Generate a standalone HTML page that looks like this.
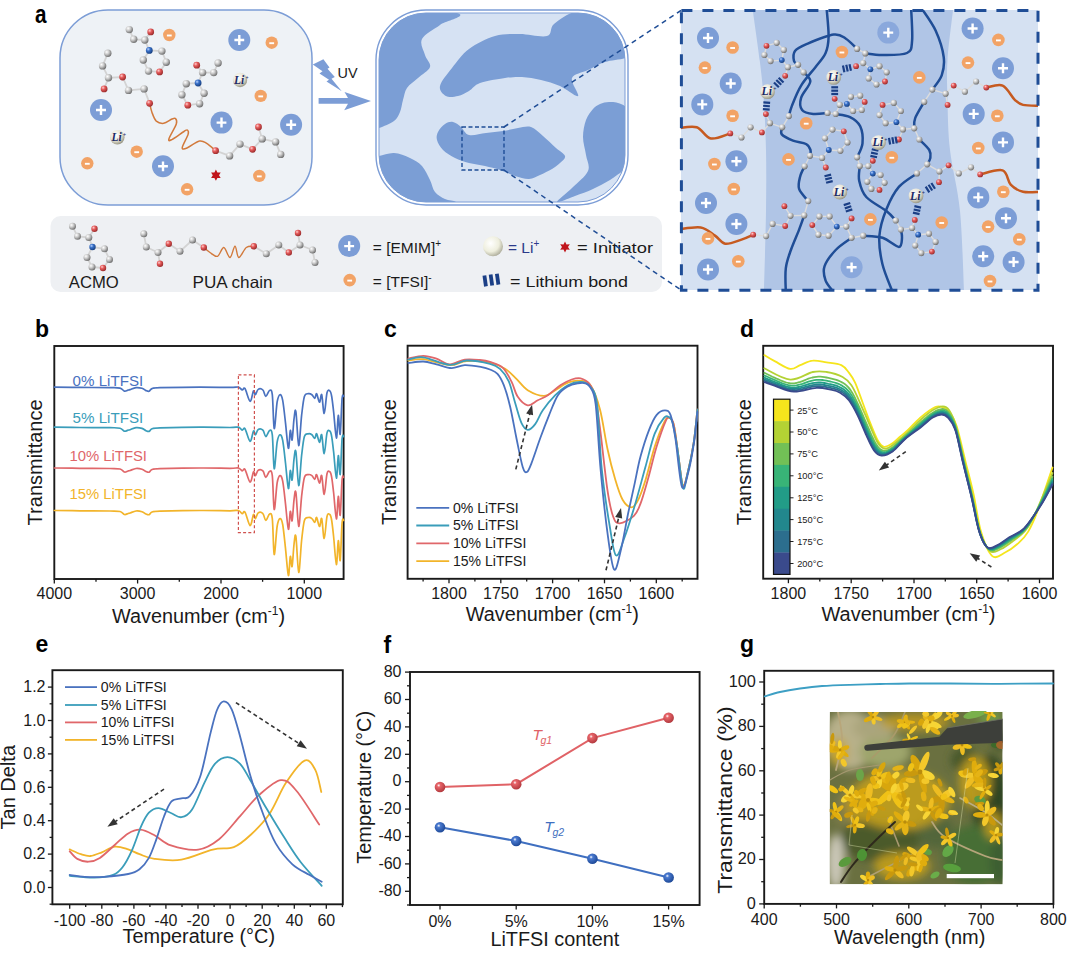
<!DOCTYPE html>
<html><head><meta charset="utf-8"><style>
html,body{margin:0;padding:0;background:#fff;width:1080px;height:955px;overflow:hidden}
svg{display:block;font-family:"Liberation Sans",sans-serif}
</style></head><body>
<svg width="1080" height="955" viewBox="0 0 1080 955">
<rect width="1080" height="955" fill="#fff"/>
<defs>
<radialGradient id="ballG" cx="0.35" cy="0.32" r="0.7"><stop offset="0" stop-color="#ffffff"/><stop offset="0.45" stop-color="#c9c9c9"/><stop offset="1" stop-color="#6f6f6f"/></radialGradient>
<radialGradient id="ballR" cx="0.35" cy="0.32" r="0.7"><stop offset="0" stop-color="#ffd0d0"/><stop offset="0.4" stop-color="#e55b5b"/><stop offset="1" stop-color="#9a2b2b"/></radialGradient>
<radialGradient id="ballB" cx="0.35" cy="0.32" r="0.7"><stop offset="0" stop-color="#b9d3ff"/><stop offset="0.4" stop-color="#3870c8"/><stop offset="1" stop-color="#173f80"/></radialGradient>
<radialGradient id="liG" cx="0.4" cy="0.35" r="0.7"><stop offset="0" stop-color="#ffffff"/><stop offset="0.55" stop-color="#e8e6d8"/><stop offset="1" stop-color="#8d8b78"/></radialGradient>
<radialGradient id="pearl" cx="0.38" cy="0.35" r="0.7"><stop offset="0" stop-color="#ffffff"/><stop offset="0.6" stop-color="#eeeedd"/><stop offset="1" stop-color="#a9a896"/></radialGradient>
</defs><rect x="60" y="10" width="252" height="195" rx="48" ry="48" fill="#eef2f6" stroke="#7c9dd6" stroke-width="1.5"/><line x1="129.3" y1="29.6" x2="133.7" y2="39.3" stroke="#d3d3d3" stroke-width="1.8"/><line x1="133.7" y1="39.3" x2="144.8" y2="40" stroke="#d3d3d3" stroke-width="1.8"/><line x1="144.8" y1="40" x2="150.7" y2="31.9" stroke="#d3d3d3" stroke-width="1.8"/><line x1="144.8" y1="40" x2="149.3" y2="50.4" stroke="#d3d3d3" stroke-width="1.8"/><line x1="149.3" y1="50.4" x2="161.9" y2="51.1" stroke="#d3d3d3" stroke-width="1.8"/><line x1="161.9" y1="51.1" x2="166.3" y2="62.2" stroke="#d3d3d3" stroke-width="1.8"/><line x1="166.3" y1="62.2" x2="159.6" y2="71.9" stroke="#d3d3d3" stroke-width="1.8"/><line x1="159.6" y1="71.9" x2="148.5" y2="71.1" stroke="#d3d3d3" stroke-width="1.8"/><line x1="148.5" y1="71.1" x2="143.3" y2="60" stroke="#d3d3d3" stroke-width="1.8"/><line x1="143.3" y1="60" x2="149.3" y2="50.4" stroke="#d3d3d3" stroke-width="1.8"/><circle cx="129.3" cy="29.6" r="3.7" fill="url(#ballG)"/><circle cx="133.7" cy="39.3" r="3.7" fill="url(#ballG)"/><circle cx="144.8" cy="40" r="3.7" fill="url(#ballG)"/><circle cx="150.7" cy="31.9" r="3.4" fill="url(#ballR)"/><circle cx="149.3" cy="50.4" r="3.4" fill="url(#ballB)"/><circle cx="161.9" cy="51.1" r="3.7" fill="url(#ballG)"/><circle cx="166.3" cy="62.2" r="3.7" fill="url(#ballG)"/><circle cx="159.6" cy="71.9" r="3.4" fill="url(#ballR)"/><circle cx="148.5" cy="71.1" r="3.7" fill="url(#ballG)"/><circle cx="143.3" cy="60" r="3.7" fill="url(#ballG)"/><line x1="218.1" y1="63" x2="213.7" y2="72.6" stroke="#d3d3d3" stroke-width="1.8"/><line x1="213.7" y1="72.6" x2="202.6" y2="72.6" stroke="#d3d3d3" stroke-width="1.8"/><line x1="202.6" y1="72.6" x2="196.7" y2="65.2" stroke="#d3d3d3" stroke-width="1.8"/><line x1="202.6" y1="72.6" x2="198.1" y2="83" stroke="#d3d3d3" stroke-width="1.8"/><line x1="198.1" y1="83" x2="186.3" y2="83.7" stroke="#d3d3d3" stroke-width="1.8"/><line x1="186.3" y1="83.7" x2="181.9" y2="94.8" stroke="#d3d3d3" stroke-width="1.8"/><line x1="181.9" y1="94.8" x2="187.8" y2="105.2" stroke="#d3d3d3" stroke-width="1.8"/><line x1="187.8" y1="105.2" x2="199.6" y2="103.7" stroke="#d3d3d3" stroke-width="1.8"/><line x1="199.6" y1="103.7" x2="204.1" y2="93.3" stroke="#d3d3d3" stroke-width="1.8"/><line x1="204.1" y1="93.3" x2="198.1" y2="83" stroke="#d3d3d3" stroke-width="1.8"/><circle cx="218.1" cy="63" r="3.7" fill="url(#ballG)"/><circle cx="213.7" cy="72.6" r="3.7" fill="url(#ballG)"/><circle cx="202.6" cy="72.6" r="3.7" fill="url(#ballG)"/><circle cx="196.7" cy="65.2" r="3.4" fill="url(#ballR)"/><circle cx="198.1" cy="83" r="3.4" fill="url(#ballB)"/><circle cx="186.3" cy="83.7" r="3.7" fill="url(#ballG)"/><circle cx="181.9" cy="94.8" r="3.7" fill="url(#ballG)"/><circle cx="187.8" cy="105.2" r="3.4" fill="url(#ballR)"/><circle cx="199.6" cy="103.7" r="3.7" fill="url(#ballG)"/><circle cx="204.1" cy="93.3" r="3.7" fill="url(#ballG)"/><path d="M149.6,103.3 C150,104.8 150.8,109.2 151.9,112.2 C153,115.2 154.3,119.2 156.3,121.1 C158.3,122.9 161.1,123.6 163.7,123.3 C166.3,123 170,119.8 172,119 C174,118.2 174.8,117.7 175.5,118.5 C176.2,119.3 177.4,120.7 176.3,124.1 C175.2,127.5 169.6,136.3 168.9,138.9 C168.2,141.5 169.4,140.8 171.9,139.6 C174.4,138.4 181.4,133.1 184,131.5 C186.6,129.9 186.7,129.5 187.4,130 C188.1,130.5 189,131.4 188.1,134.4 C187.2,137.4 182.3,145.6 182.2,147.8 C182.1,150 184.6,148.9 187.4,147.8 C190.2,146.7 196.1,141.8 199.3,141.1 C202.5,140.3 204,141.7 206.7,143.3 C209.4,144.9 214.1,149.5 215.6,150.7" fill="none" stroke="#d27a3c" stroke-width="1.5"/><line x1="107.8" y1="53.3" x2="102.6" y2="65.9" stroke="#d3d3d3" stroke-width="1.8"/><line x1="102.6" y1="65.9" x2="108.5" y2="77.8" stroke="#d3d3d3" stroke-width="1.8"/><line x1="108.5" y1="77.8" x2="122.6" y2="77" stroke="#d3d3d3" stroke-width="1.8"/><line x1="122.6" y1="77" x2="128.5" y2="90.4" stroke="#d3d3d3" stroke-width="1.8"/><line x1="128.5" y1="90.4" x2="144.1" y2="88.9" stroke="#d3d3d3" stroke-width="1.8"/><line x1="144.1" y1="88.9" x2="149.6" y2="103.3" stroke="#d3d3d3" stroke-width="1.8"/><line x1="108.5" y1="77.8" x2="104.1" y2="88.9" stroke="#d3d3d3" stroke-width="1.8"/><circle cx="107.8" cy="53.3" r="3.7" fill="url(#ballG)"/><circle cx="102.6" cy="65.9" r="3.7" fill="url(#ballG)"/><circle cx="108.5" cy="77.8" r="3.7" fill="url(#ballG)"/><circle cx="122.6" cy="77" r="3.4" fill="url(#ballR)"/><circle cx="128.5" cy="90.4" r="3.7" fill="url(#ballG)"/><circle cx="144.1" cy="88.9" r="3.7" fill="url(#ballG)"/><circle cx="149.6" cy="103.3" r="3.4" fill="url(#ballR)"/><circle cx="104.1" cy="88.9" r="3.4" fill="url(#ballR)"/><line x1="215.6" y1="150.7" x2="229.6" y2="155.9" stroke="#d3d3d3" stroke-width="1.8"/><line x1="229.6" y1="155.9" x2="240" y2="144.1" stroke="#d3d3d3" stroke-width="1.8"/><line x1="240" y1="144.1" x2="252.6" y2="149.3" stroke="#d3d3d3" stroke-width="1.8"/><line x1="252.6" y1="149.3" x2="262.2" y2="138.9" stroke="#d3d3d3" stroke-width="1.8"/><line x1="262.2" y1="138.9" x2="275.6" y2="141.9" stroke="#d3d3d3" stroke-width="1.8"/><line x1="275.6" y1="141.9" x2="280.7" y2="154.4" stroke="#d3d3d3" stroke-width="1.8"/><line x1="262.2" y1="138.9" x2="258.5" y2="127" stroke="#d3d3d3" stroke-width="1.8"/><circle cx="215.6" cy="150.7" r="3.4" fill="url(#ballR)"/><circle cx="229.6" cy="155.9" r="3.7" fill="url(#ballG)"/><circle cx="240" cy="144.1" r="3.7" fill="url(#ballG)"/><circle cx="252.6" cy="149.3" r="3.4" fill="url(#ballR)"/><circle cx="262.2" cy="138.9" r="3.7" fill="url(#ballG)"/><circle cx="275.6" cy="141.9" r="3.7" fill="url(#ballG)"/><circle cx="280.7" cy="154.4" r="3.7" fill="url(#ballG)"/><circle cx="258.5" cy="127" r="3.4" fill="url(#ballR)"/><circle cx="239.3" cy="40" r="11" fill="#7c9dd6" opacity="1.0"/><path d="M234.4,40 H244.2 M239.3,35 V45" stroke="#fff" stroke-width="2.4"/><circle cx="101" cy="110" r="11" fill="#7c9dd6" opacity="1.0"/><path d="M96,110 H106 M101,105 V115" stroke="#fff" stroke-width="2.4"/><circle cx="221.5" cy="122.6" r="11" fill="#7c9dd6" opacity="1.0"/><path d="M216.6,122.6 H226.4 M221.5,117.6 V127.5" stroke="#fff" stroke-width="2.4"/><circle cx="291.1" cy="124.8" r="11" fill="#7c9dd6" opacity="1.0"/><path d="M286.2,124.8 H296.1 M291.1,119.8 V129.8" stroke="#fff" stroke-width="2.4"/><circle cx="163" cy="166.3" r="11" fill="#7c9dd6" opacity="1.0"/><path d="M158.1,166.3 H167.9 M163,161.4 V171.2" stroke="#fff" stroke-width="2.4"/><circle cx="169.3" cy="35" r="6.2" fill="#f2a366"/><path d="M166.9,35.5 H171.7" stroke="#fff" stroke-width="1.9"/><circle cx="271.7" cy="42.7" r="6.2" fill="#f2a366"/><path d="M269.3,43.2 H274.1" stroke="#fff" stroke-width="1.9"/><circle cx="260.7" cy="95.9" r="6.2" fill="#f2a366"/><path d="M258.3,96.4 H263.1" stroke="#fff" stroke-width="1.9"/><circle cx="136.7" cy="151.7" r="6.2" fill="#f2a366"/><path d="M134.3,152.2 H139.1" stroke="#fff" stroke-width="1.9"/><circle cx="87.3" cy="163.3" r="6.2" fill="#f2a366"/><path d="M84.9,163.8 H89.7" stroke="#fff" stroke-width="1.9"/><circle cx="259.3" cy="175.9" r="6.2" fill="#f2a366"/><path d="M256.9,176.4 H261.7" stroke="#fff" stroke-width="1.9"/><circle cx="187.1" cy="189.3" r="6.2" fill="#f2a366"/><path d="M184.7,189.8 H189.5" stroke="#fff" stroke-width="1.9"/><circle cx="240" cy="80" r="7.2" fill="url(#liG)"/><text x="239.2" y="83.6" font-family="Liberation Serif, serif" font-style="italic" font-weight="bold" font-size="11.5" fill="#1d2a66" text-anchor="middle">Li</text><text x="245.6" y="79.6" font-family="Liberation Serif, serif" font-weight="bold" font-size="5.4" fill="#1d2a66">+</text><circle cx="117.3" cy="137.3" r="7.2" fill="url(#liG)"/><text x="116.5" y="140.9" font-family="Liberation Serif, serif" font-style="italic" font-weight="bold" font-size="11.5" fill="#1d2a66" text-anchor="middle">Li</text><text x="122.9" y="136.9" font-family="Liberation Serif, serif" font-weight="bold" font-size="5.4" fill="#1d2a66">+</text><path d="M215.9,169.6 L214.4,172.5 L211.1,172.4 L212.8,175.2 L211.1,178 L214.4,177.9 L215.9,180.8 L217.4,177.9 L220.7,178 L219,175.2 L220.7,172.4 L217.4,172.5 Z" fill="#c0141b"/><rect x="376" y="10" width="252" height="195" rx="50" ry="50" fill="#fff" stroke="#7c9dd6" stroke-width="1.4"/><defs><clipPath id="b2clip"><rect x="379" y="13" width="246" height="189" rx="47" ry="47"/></clipPath></defs><rect x="379" y="13" width="246" height="189" rx="47" ry="47" fill="#d6e2f3" stroke="#7c9dd6" stroke-width="1"/><g clip-path="url(#b2clip)"><path d="M457,13 C469,16.3 445.8,20.7 440,25 C434.2,29.3 424.5,34 422,39 C419.5,44 423.7,50.3 425,55 C426.3,59.7 431.2,63.2 430,67 C428.8,70.8 421.8,74.5 418,78 C414.2,81.5 409.5,84.3 407,88 C404.5,91.7 404.2,96 403,100 C401.8,104 401.5,108.5 400,112 C398.5,115.5 397.5,118.3 394,121 C390.5,123.7 383.3,126.5 379,128 C374.7,129.5 369.8,150.5 368,130 C366.2,109.5 353.2,24.5 368,5 C382.8,-14.5 445,9.7 457,13 Z" fill="#7b9ed5"/><path d="M446,96 C443,94.3 439,90.7 440,86 C441,81.3 447.2,74.2 452,68 C456.8,61.8 461.8,54.3 469,49 C476.2,43.7 486.5,38.5 495,36 C503.5,33.5 511.3,34 520,34 C528.7,34 541.3,37.7 547,36 C552.7,34.3 549.3,28 554,24 C558.7,20 567.3,13.5 575,12 C582.7,10.5 592.7,11.8 600,15 C607.3,18.2 614,26 619,31 C624,36 628.7,40.7 630,45 C631.3,49.3 631.2,54.2 627,57 C622.8,59.8 611.5,59.8 605,62 C598.5,64.2 593.5,67.3 588,70 C582.5,72.7 573.7,73.7 572,78 C570.3,82.3 580,94.7 578,96 C576,97.3 566.2,88.7 560,86 C553.8,83.3 547.3,81.5 541,80 C534.7,78.5 528,77.3 522,77 C516,76.7 512,77 505,78 C498,79 486,80.8 480,83 C474,85.2 472.7,88.8 469,91 C465.3,93.2 461.8,95.2 458,96 C454.2,96.8 449,97.7 446,96 Z" fill="#7b9ed5"/><path d="M438,132 C439.3,129.3 442.5,125.7 445,124 C447.5,122.3 450.3,121.5 453,122 C455.7,122.5 458.3,124.8 461,127 C463.7,129.2 464.8,134 469,135 C473.2,136 480.3,133.7 486,133 C491.7,132.3 497.7,131.8 503,131 C508.3,130.2 513.3,128.7 518,128 C522.7,127.3 526.8,125.7 531,127 C535.2,128.3 538.8,132.5 543,136 C547.2,139.5 552.3,144.7 556,148 C559.7,151.3 564.3,153.5 565,156 C565.7,158.5 562.2,160.8 560,163 C557.8,165.2 555.3,167 552,169 C548.7,171 543.8,173.3 540,175 C536.2,176.7 533.2,178.8 529,179 C524.8,179.2 519.8,177.5 515,176 C510.2,174.5 505,171.7 500,170 C495,168.3 490.2,167.2 485,166 C479.8,164.8 474,164.3 469,163 C464,161.7 459.3,160.2 455,158 C450.7,155.8 446,153 443,150 C440,147 437.8,143 437,140 C436.2,137 436.7,134.7 438,132 Z" fill="#7b9ed5"/><path d="M609,102 C612,101.8 615,101.8 618,103 C621,104.2 624.7,104.5 627,109 C629.3,113.5 631.2,119 632,130 C632.8,141 632.8,168.5 632,175 C631.2,181.5 630.7,168.2 627,169 C623.3,169.8 615.7,176.7 610,180 C604.3,183.3 598.8,186.3 593,189 C587.2,191.7 581,193.8 575,196 C569,198.2 557.5,203.3 557,202 C556.5,200.7 566.8,193.2 572,188 C577.2,182.8 585.7,176.5 588,171 C590.3,165.5 586.8,160.7 586,155 C585.2,149.3 583,142.8 583,137 C583,131.2 584.3,124.7 586,120 C587.7,115.3 590.7,111.7 593,109 C595.3,106.3 597.3,105.2 600,104 C602.7,102.8 606,102.2 609,102 Z" fill="#7b9ed5"/><path d="M370,156 C371.5,147 375,156.5 379,156 C383,155.5 388.8,152.7 394,153 C399.2,153.3 405.3,155.8 410,158 C414.7,160.2 418.7,162.3 422,166 C425.3,169.7 427.8,175.7 430,180 C432.2,184.3 432.5,188.8 435,192 C437.5,195.2 441.5,197.3 445,199 C448.5,200.7 454.2,200.2 456,202 C457.8,203.8 470.3,208.7 456,210 C441.7,211.3 384.3,219 370,210 C355.7,201 368.5,165 370,156 Z" fill="#7b9ed5"/></g><rect x="462" y="127" width="42" height="43" fill="none" stroke="#1f4d96" stroke-width="1.4" stroke-dasharray="4 2.5"/><path d="M312.8,64.6 L323.4,59.2 L329.5,67.5 L327.5,68.8 L334.8,77 L331.5,78.8 L341.8,91.2 L326.5,81.5 L329,79.8 L319.5,73.5 L322.5,71.3 Z" fill="#7c9dd6"/><path d="M318.6,98 L348,98 L344.5,91.9 L371,101.1 L344.2,110.3 L348,103.8 L318.6,103.8 Z" fill="#7c9dd6"/><text x="337.5" y="77.9" font-size="15" text-anchor="start" fill="#1a1a1a" textLength="20" lengthAdjust="spacingAndGlyphs" >UV</text><rect x="50.5" y="216" width="611.5" height="76" rx="10" ry="10" fill="#eef0f3"/><line x1="72.5" y1="226.3" x2="77.5" y2="236.3" stroke="#d3d3d3" stroke-width="1.8"/><line x1="77.5" y1="236.3" x2="88.8" y2="237.5" stroke="#d3d3d3" stroke-width="1.8"/><line x1="88.8" y1="237.5" x2="94.5" y2="228.8" stroke="#d3d3d3" stroke-width="1.8"/><line x1="88.8" y1="237.5" x2="92.5" y2="247" stroke="#d3d3d3" stroke-width="1.8"/><line x1="92.5" y1="247" x2="104.5" y2="248.8" stroke="#d3d3d3" stroke-width="1.8"/><line x1="104.5" y1="248.8" x2="109.5" y2="259.5" stroke="#d3d3d3" stroke-width="1.8"/><line x1="109.5" y1="259.5" x2="103" y2="268" stroke="#d3d3d3" stroke-width="1.8"/><line x1="103" y1="268" x2="92" y2="267" stroke="#d3d3d3" stroke-width="1.8"/><line x1="92" y1="267" x2="87" y2="257.5" stroke="#d3d3d3" stroke-width="1.8"/><line x1="87" y1="257.5" x2="92.5" y2="247" stroke="#d3d3d3" stroke-width="1.8"/><circle cx="72.5" cy="226.3" r="3.5" fill="url(#ballG)"/><circle cx="77.5" cy="236.3" r="3.5" fill="url(#ballG)"/><circle cx="88.8" cy="237.5" r="3.5" fill="url(#ballG)"/><circle cx="94.5" cy="228.8" r="3.2" fill="url(#ballR)"/><circle cx="92.5" cy="247" r="3.2" fill="url(#ballB)"/><circle cx="104.5" cy="248.8" r="3.5" fill="url(#ballG)"/><circle cx="109.5" cy="259.5" r="3.5" fill="url(#ballG)"/><circle cx="103" cy="268" r="3.2" fill="url(#ballR)"/><circle cx="92" cy="267" r="3.5" fill="url(#ballG)"/><circle cx="87" cy="257.5" r="3.5" fill="url(#ballG)"/><path d="M203.8,247.5 C204.8,248.3 207.7,251 210,252.5 C212.3,254 215.2,257.1 217.5,256.3 C219.8,255.5 221.7,247.3 223.8,247.5 C225.9,247.7 228.1,257.7 230,257.5 C231.9,257.3 233.5,246.3 235,246.3 C236.5,246.3 236.9,257.3 238.8,257.5 C240.7,257.7 243.8,249.4 246.3,247.5 C248.8,245.6 252.6,246.5 253.8,246.3" fill="none" stroke="#d27a3c" stroke-width="1.4"/><line x1="143.8" y1="233.8" x2="146.3" y2="247" stroke="#d3d3d3" stroke-width="1.8"/><line x1="146.3" y1="247" x2="158" y2="252.5" stroke="#d3d3d3" stroke-width="1.8"/><line x1="158" y1="252.5" x2="168.8" y2="243.8" stroke="#d3d3d3" stroke-width="1.8"/><line x1="168.8" y1="243.8" x2="180" y2="251.3" stroke="#d3d3d3" stroke-width="1.8"/><line x1="180" y1="251.3" x2="192.5" y2="240" stroke="#d3d3d3" stroke-width="1.8"/><line x1="192.5" y1="240" x2="203.8" y2="247.5" stroke="#d3d3d3" stroke-width="1.8"/><line x1="158" y1="252.5" x2="160" y2="263.8" stroke="#d3d3d3" stroke-width="1.8"/><circle cx="143.8" cy="233.8" r="3.5" fill="url(#ballG)"/><circle cx="146.3" cy="247" r="3.5" fill="url(#ballG)"/><circle cx="158" cy="252.5" r="3.5" fill="url(#ballG)"/><circle cx="168.8" cy="243.8" r="3.2" fill="url(#ballR)"/><circle cx="180" cy="251.3" r="3.5" fill="url(#ballG)"/><circle cx="192.5" cy="240" r="3.5" fill="url(#ballG)"/><circle cx="203.8" cy="247.5" r="3.2" fill="url(#ballR)"/><circle cx="160" cy="263.8" r="3.2" fill="url(#ballR)"/><line x1="253.8" y1="246.3" x2="266.3" y2="253.8" stroke="#d3d3d3" stroke-width="1.8"/><line x1="266.3" y1="253.8" x2="278.8" y2="245" stroke="#d3d3d3" stroke-width="1.8"/><line x1="278.8" y1="245" x2="288.8" y2="252.5" stroke="#d3d3d3" stroke-width="1.8"/><line x1="288.8" y1="252.5" x2="300" y2="245" stroke="#d3d3d3" stroke-width="1.8"/><line x1="300" y1="245" x2="312.5" y2="250" stroke="#d3d3d3" stroke-width="1.8"/><line x1="312.5" y1="250" x2="315" y2="262.5" stroke="#d3d3d3" stroke-width="1.8"/><line x1="300" y1="245" x2="298" y2="233" stroke="#d3d3d3" stroke-width="1.8"/><circle cx="253.8" cy="246.3" r="3.2" fill="url(#ballR)"/><circle cx="266.3" cy="253.8" r="3.5" fill="url(#ballG)"/><circle cx="278.8" cy="245" r="3.5" fill="url(#ballG)"/><circle cx="288.8" cy="252.5" r="3.2" fill="url(#ballR)"/><circle cx="300" cy="245" r="3.5" fill="url(#ballG)"/><circle cx="312.5" cy="250" r="3.5" fill="url(#ballG)"/><circle cx="315" cy="262.5" r="3.5" fill="url(#ballG)"/><circle cx="298" cy="233" r="3.2" fill="url(#ballR)"/><text x="68.8" y="288" font-size="16.5" text-anchor="start" fill="#1a1a1a" textLength="50" lengthAdjust="spacingAndGlyphs" >ACMO</text><text x="192.5" y="288" font-size="16.5" text-anchor="start" fill="#1a1a1a" textLength="80" lengthAdjust="spacingAndGlyphs" >PUA chain</text><circle cx="349.2" cy="246.1" r="11" fill="#7c9dd6" opacity="1.0"/><path d="M344.2,246.1 H354.1 M349.2,241.2 V251" stroke="#fff" stroke-width="2.4"/><circle cx="349.7" cy="280.1" r="6.3" fill="#f2a366"/><path d="M347.3,280.6 H352.1" stroke="#fff" stroke-width="1.9"/><text x="372.8" y="252.8" font-size="15.5" fill="#1a1a1a">= [EMIM]<tspan font-size="10" dy="-6">+</tspan></text><text x="372.8" y="286.7" font-size="15.5" fill="#1a1a1a">= [TFSI]<tspan font-size="10" dy="-6">-</tspan></text><circle cx="493" cy="246.3" r="10" fill="url(#pearl)"/><text x="508" y="252.8" font-size="15.5" fill="#2b3a8a">= Li<tspan font-size="10" dy="-6">+</tspan></text><path d="M565,241.5 L563.5,244.4 L560.2,244.2 L562,247 L560.2,249.8 L563.5,249.6 L565,252.5 L566.5,249.6 L569.8,249.8 L568,247 L569.8,244.2 L566.5,244.4 Z" fill="#c0141b"/><text x="577" y="252.8" font-size="15.5" text-anchor="start" fill="#1a1a1a" textLength="76" lengthAdjust="spacingAndGlyphs" >= Initiator</text><g transform="translate(491.7 280) rotate(-8)"><rect x="-8.5" y="-5.5" width="3.8" height="11" fill="#1b3f86"/><rect x="-2.2" y="-5.5" width="3.8" height="11" fill="#1b3f86"/><rect x="4.1" y="-5.5" width="3.8" height="11" fill="#1b3f86"/></g><text x="510" y="286.7" font-size="15.5" text-anchor="start" fill="#1a1a1a" textLength="118" lengthAdjust="spacingAndGlyphs" >= Lithium bond</text><defs><clipPath id="p3clip"><rect x="681" y="10" width="357" height="280"/></clipPath></defs><g clip-path="url(#p3clip)"><rect x="681" y="10" width="357" height="280" fill="#d5e1f2"/><path d="M752,8 C752.1,8.3 751.4,1.2 752.7,10 C754,18.8 757.9,45.7 759.8,61 C761.7,76.3 762.9,87.2 763.9,102 C764.9,116.8 765.6,131.8 766,150 C766.4,168.2 766.3,187.7 766,211 C765.7,234.3 764.3,276.5 764,290 C763.7,303.5 764,291.7 764,292 L964,292 C964,291.7 964.7,303.5 964,290 C963.3,276.5 962.3,234.3 960,211 C957.7,187.7 952.1,168.5 950,150 C947.9,131.5 947.9,115 947.5,100 C947.1,85 946.6,75 947.5,60 C948.4,45 952.1,18.7 953,10 C953.9,1.3 953,8.3 953,8 Z" fill="#b0c5e6"/><path d="M826.6,8 C826.9,12.8 828.8,29.2 828.6,36.7 C828.4,44.2 827.8,47.9 825.6,53 C823.4,58.1 819.5,61.8 815.4,67.2 C811.3,72.6 805,79.1 801.1,85.6 C797.2,92 793.9,100.8 791.9,105.9 C789.9,111 789.4,114.4 788.9,116.1" fill="none" stroke="#1f4d96" stroke-width="2.5" stroke-linecap="round"/><path d="M782.2,127.3 C782.1,128.5 780,132.2 781.8,134.4 C783.6,136.6 789,139 793,140.6 C797,142.2 803.1,142.4 806,144 C808.9,145.6 809.8,148 810.5,150 C811.2,152 810.1,154.8 810,155.8" fill="none" stroke="#1f4d96" stroke-width="2.5" stroke-linecap="round"/><path d="M804.6,166.3 C803.9,168 801,172.9 800.1,176.7 C799.2,180.5 797.8,184.8 799.1,188.9 C800.5,193 806.7,199.1 808.2,201.1" fill="none" stroke="#1f4d96" stroke-width="2.5" stroke-linecap="round"/><path d="M804.2,215.4 C803.4,217.8 801.3,223.8 799.1,229.6 C796.9,235.4 793.1,243.6 790.9,250 C788.7,256.4 786.6,261.3 785.8,268.3 C784.9,275.3 785.8,288.1 785.8,292" fill="none" stroke="#1f4d96" stroke-width="2.5" stroke-linecap="round"/><path d="M857.1,48.9 C855.2,47.2 849.8,41.1 845.9,38.7 C842,36.3 840.2,33.8 833.7,34.6 C827.2,35.5 813.7,41.1 807.2,43.8 C800.8,46.5 797.2,48 795,50.9 C792.8,53.8 793.5,58.8 794,61.1 C794.5,63.4 797.4,64.2 798.1,64.8" fill="none" stroke="#1f4d96" stroke-width="2.5" stroke-linecap="round"/><path d="M803.6,72.3 C804.7,73.8 810.7,77.2 810.3,81.5 C809.9,85.8 802.5,93 801.1,97.8 C799.7,102.5 800.1,107.3 802.1,110 C804.1,112.7 809,113.5 813.3,114 C817.5,114.5 825.2,113.2 827.6,113" fill="none" stroke="#1f4d96" stroke-width="2.5" stroke-linecap="round"/><path d="M835.7,114 C838.1,114.5 845.9,115 850,117.1 C854.1,119.1 858.1,121.9 860.2,126.3 C862.3,130.7 863,138.1 862.5,143.3 C862,148.5 858,155 857.1,157.3" fill="none" stroke="#1f4d96" stroke-width="2.5" stroke-linecap="round"/><path d="M859.8,166.1 C859.7,168.5 858.1,175.5 859.2,180.7 C860.3,185.8 861.7,191.9 866.3,197 C870.9,202.1 881.8,207.4 886.7,211.3 C891.6,215.2 894.3,219 895.8,220.5" fill="none" stroke="#1f4d96" stroke-width="2.5" stroke-linecap="round"/><path d="M900.9,229.6 C901.1,231 902.3,234.9 902,237.8 C901.7,240.7 902.1,246.9 898.9,246.9 C895.7,246.9 888.5,239.7 882.6,237.8 C876.7,235.9 866.4,236 863.2,235.7" fill="none" stroke="#1f4d96" stroke-width="2.5" stroke-linecap="round"/><path d="M851.6,237.8 C849,239.8 840.2,245.2 835.7,250 C831.2,254.8 826.2,261.2 824.5,266.3 C822.8,271.4 824.1,276.3 825.6,280.6 C827.1,284.9 832.4,290.1 833.7,292" fill="none" stroke="#1f4d96" stroke-width="2.5" stroke-linecap="round"/><path d="M911.1,8 C911.3,13.4 912.8,33.2 912.1,40.7 C911.4,48.2 911.9,50.6 907,53 C902.1,55.4 889.6,54.9 882.6,55 C875.6,55.1 868.2,53.7 865.3,53.4" fill="none" stroke="#1f4d96" stroke-width="2.5" stroke-linecap="round"/><path d="M921.3,8 C923.7,11.8 931.9,22.4 935.6,30.6 C939.3,38.8 942.7,49.5 943.7,57 C944.7,64.5 943.6,70 941.7,75.4 C939.8,80.8 933.9,87.2 932.3,89.6" fill="none" stroke="#1f4d96" stroke-width="2.5" stroke-linecap="round"/><path d="M924.2,101.9 C922.7,104.6 916.9,113.7 915.2,118.1 C913.5,122.5 914.4,126.6 914.2,128.3" fill="none" stroke="#1f4d96" stroke-width="2.5" stroke-linecap="round"/><path d="M919.3,139.5 C921,141.2 927.5,146.9 929.3,150 C931.1,153.1 930.6,155.7 930.3,158.1 C929.9,160.5 927.7,163.3 927.2,164.3" fill="none" stroke="#1f4d96" stroke-width="2.5" stroke-linecap="round"/><path d="M917,173.4 C914,175.7 904,181 898.9,186.9 C893.8,192.8 889.8,200.9 886.5,209 C883.2,217.1 880.1,226.4 879.4,235.6 C878.7,244.8 880.2,254.6 882.4,264 C884.6,273.4 890.9,287.3 892.6,292" fill="none" stroke="#1f4d96" stroke-width="2.5" stroke-linecap="round"/><path d="M678,128.3 C681.1,128.1 691.2,125.6 696.7,127.3 C702.2,129 705.3,137.5 710.9,138.5 C716.5,139.5 727.1,134.2 730.3,133.4" fill="none" stroke="#c65a20" stroke-width="2.5" stroke-linecap="round"/><path d="M678,229.4 C681.8,229.1 694.5,226.4 700.7,227.4 C706.9,228.4 710.9,232.9 715,235.6 C719.1,238.3 720.8,243 725.2,243.7 C729.6,244.4 736.8,241.1 741.5,239.6 C746.2,238.1 751.2,235.5 753.2,234.7" fill="none" stroke="#c65a20" stroke-width="2.5" stroke-linecap="round"/><path d="M986.3,87.6 C989,87.3 997.9,83.6 1002.6,85.6 C1007.4,87.6 1011.4,96.6 1014.8,99.8 C1018.2,103 1018.8,103.9 1023,104.9 C1027.2,105.9 1037.2,105.7 1040,105.9" fill="none" stroke="#c65a20" stroke-width="2.5" stroke-linecap="round"/><path d="M980.2,174.4 C983.9,173.7 997.5,168.7 1002.6,170.4 C1007.7,172.1 1007.3,181 1010.7,184.6 C1014.1,188.2 1018.1,190.6 1023,191.8 C1027.9,193 1037.2,191.8 1040,191.8" fill="none" stroke="#c65a20" stroke-width="2.5" stroke-linecap="round"/><line x1="730.3" y1="133.4" x2="741.5" y2="137.5" stroke="#dcdcdc" stroke-width="1.4"/><line x1="741.5" y1="137.5" x2="750.6" y2="127.3" stroke="#dcdcdc" stroke-width="1.4"/><line x1="750.6" y1="127.3" x2="761.9" y2="132.4" stroke="#dcdcdc" stroke-width="1.4"/><line x1="761.9" y1="132.4" x2="770" y2="123.2" stroke="#dcdcdc" stroke-width="1.4"/><line x1="770" y1="123.2" x2="782.2" y2="127.3" stroke="#dcdcdc" stroke-width="1.4"/><line x1="782.2" y1="127.3" x2="788.9" y2="116.1" stroke="#dcdcdc" stroke-width="1.4"/><line x1="770" y1="123.2" x2="765.9" y2="114.1" stroke="#dcdcdc" stroke-width="1.4"/><circle cx="730.3" cy="133.4" r="2.9" fill="url(#ballR)"/><circle cx="741.5" cy="137.5" r="3.1" fill="url(#ballG)"/><circle cx="750.6" cy="127.3" r="3.1" fill="url(#ballG)"/><circle cx="761.9" cy="132.4" r="2.9" fill="url(#ballR)"/><circle cx="770" cy="123.2" r="3.1" fill="url(#ballG)"/><circle cx="782.2" cy="127.3" r="3.1" fill="url(#ballG)"/><circle cx="788.9" cy="116.1" r="3.1" fill="url(#ballG)"/><circle cx="765.9" cy="114.1" r="2.9" fill="url(#ballR)"/><line x1="753.2" y1="234.7" x2="766.1" y2="236.1" stroke="#dcdcdc" stroke-width="1.4"/><line x1="766.1" y1="236.1" x2="772.6" y2="223.9" stroke="#dcdcdc" stroke-width="1.4"/><line x1="772.6" y1="223.9" x2="785.2" y2="226" stroke="#dcdcdc" stroke-width="1.4"/><line x1="785.2" y1="226" x2="790.5" y2="215.8" stroke="#dcdcdc" stroke-width="1.4"/><line x1="790.5" y1="215.8" x2="804.2" y2="215.4" stroke="#dcdcdc" stroke-width="1.4"/><line x1="804.2" y1="215.4" x2="808.2" y2="201.1" stroke="#dcdcdc" stroke-width="1.4"/><line x1="790.5" y1="215.8" x2="784.4" y2="206.2" stroke="#dcdcdc" stroke-width="1.4"/><circle cx="753.2" cy="234.7" r="2.9" fill="url(#ballR)"/><circle cx="766.1" cy="236.1" r="3.1" fill="url(#ballG)"/><circle cx="772.6" cy="223.9" r="3.1" fill="url(#ballG)"/><circle cx="785.2" cy="226" r="2.9" fill="url(#ballR)"/><circle cx="790.5" cy="215.8" r="3.1" fill="url(#ballG)"/><circle cx="804.2" cy="215.4" r="3.1" fill="url(#ballG)"/><circle cx="808.2" cy="201.1" r="3.1" fill="url(#ballG)"/><circle cx="784.4" cy="206.2" r="2.9" fill="url(#ballR)"/><line x1="986.3" y1="87.6" x2="976.1" y2="81.5" stroke="#dcdcdc" stroke-width="1.4"/><line x1="976.1" y1="81.5" x2="964.9" y2="91.7" stroke="#dcdcdc" stroke-width="1.4"/><line x1="964.9" y1="91.7" x2="953.7" y2="85.6" stroke="#dcdcdc" stroke-width="1.4"/><line x1="953.7" y1="85.6" x2="945.6" y2="93.7" stroke="#dcdcdc" stroke-width="1.4"/><line x1="945.6" y1="93.7" x2="932.3" y2="89.6" stroke="#dcdcdc" stroke-width="1.4"/><line x1="932.3" y1="89.6" x2="924.2" y2="101.9" stroke="#dcdcdc" stroke-width="1.4"/><line x1="945.6" y1="93.7" x2="947.6" y2="104.9" stroke="#dcdcdc" stroke-width="1.4"/><circle cx="986.3" cy="87.6" r="2.9" fill="url(#ballR)"/><circle cx="976.1" cy="81.5" r="3.1" fill="url(#ballG)"/><circle cx="964.9" cy="91.7" r="3.1" fill="url(#ballG)"/><circle cx="953.7" cy="85.6" r="2.9" fill="url(#ballR)"/><circle cx="945.6" cy="93.7" r="3.1" fill="url(#ballG)"/><circle cx="932.3" cy="89.6" r="3.1" fill="url(#ballG)"/><circle cx="924.2" cy="101.9" r="3.1" fill="url(#ballG)"/><circle cx="947.6" cy="104.9" r="2.9" fill="url(#ballR)"/><line x1="980.2" y1="174.4" x2="971" y2="167.3" stroke="#dcdcdc" stroke-width="1.4"/><line x1="971" y1="167.3" x2="958.8" y2="173.4" stroke="#dcdcdc" stroke-width="1.4"/><line x1="958.8" y1="173.4" x2="948.6" y2="165.3" stroke="#dcdcdc" stroke-width="1.4"/><line x1="948.6" y1="165.3" x2="939.4" y2="171.4" stroke="#dcdcdc" stroke-width="1.4"/><line x1="939.4" y1="171.4" x2="927.2" y2="164.3" stroke="#dcdcdc" stroke-width="1.4"/><line x1="927.2" y1="164.3" x2="917" y2="173.4" stroke="#dcdcdc" stroke-width="1.4"/><line x1="939.4" y1="171.4" x2="939" y2="182.2" stroke="#dcdcdc" stroke-width="1.4"/><circle cx="980.2" cy="174.4" r="2.9" fill="url(#ballR)"/><circle cx="971" cy="167.3" r="3.1" fill="url(#ballG)"/><circle cx="958.8" cy="173.4" r="3.1" fill="url(#ballG)"/><circle cx="948.6" cy="165.3" r="2.9" fill="url(#ballR)"/><circle cx="939.4" cy="171.4" r="3.1" fill="url(#ballG)"/><circle cx="927.2" cy="164.3" r="3.1" fill="url(#ballG)"/><circle cx="917" cy="173.4" r="3.1" fill="url(#ballG)"/><circle cx="939" cy="182.2" r="2.9" fill="url(#ballR)"/><line x1="803.6" y1="72.3" x2="798.1" y2="64.8" stroke="#dcdcdc" stroke-width="1.4"/><line x1="798.1" y1="64.8" x2="787.9" y2="67.2" stroke="#dcdcdc" stroke-width="1.4"/><line x1="787.9" y1="67.2" x2="785.2" y2="75.8" stroke="#dcdcdc" stroke-width="1.4"/><line x1="787.9" y1="67.2" x2="781.8" y2="60.1" stroke="#dcdcdc" stroke-width="1.4"/><line x1="781.8" y1="60.1" x2="783.8" y2="49.9" stroke="#dcdcdc" stroke-width="1.4"/><line x1="783.8" y1="49.9" x2="776.7" y2="42.8" stroke="#dcdcdc" stroke-width="1.4"/><line x1="776.7" y1="42.8" x2="766.5" y2="45.8" stroke="#dcdcdc" stroke-width="1.4"/><line x1="766.5" y1="45.8" x2="764.4" y2="55" stroke="#dcdcdc" stroke-width="1.4"/><line x1="764.4" y1="55" x2="770.6" y2="61.1" stroke="#dcdcdc" stroke-width="1.4"/><line x1="770.6" y1="61.1" x2="781.8" y2="60.1" stroke="#dcdcdc" stroke-width="1.4"/><circle cx="803.6" cy="72.3" r="3.1" fill="url(#ballG)"/><circle cx="798.1" cy="64.8" r="3.1" fill="url(#ballG)"/><circle cx="787.9" cy="67.2" r="3.1" fill="url(#ballG)"/><circle cx="785.2" cy="75.8" r="2.9" fill="url(#ballR)"/><circle cx="781.8" cy="60.1" r="2.9" fill="url(#ballB)"/><circle cx="783.8" cy="49.9" r="3.1" fill="url(#ballG)"/><circle cx="776.7" cy="42.8" r="3.1" fill="url(#ballG)"/><circle cx="766.5" cy="45.8" r="2.9" fill="url(#ballR)"/><circle cx="764.4" cy="55" r="3.1" fill="url(#ballG)"/><circle cx="770.6" cy="61.1" r="3.1" fill="url(#ballG)"/><line x1="857.1" y1="48.9" x2="865.3" y2="53.4" stroke="#dcdcdc" stroke-width="1.4"/><line x1="865.3" y1="53.4" x2="863.2" y2="63.1" stroke="#dcdcdc" stroke-width="1.4"/><line x1="863.2" y1="63.1" x2="856.1" y2="66.2" stroke="#dcdcdc" stroke-width="1.4"/><line x1="863.2" y1="63.1" x2="870.4" y2="69.3" stroke="#dcdcdc" stroke-width="1.4"/><line x1="870.4" y1="69.3" x2="879.5" y2="66.2" stroke="#dcdcdc" stroke-width="1.4"/><line x1="879.5" y1="66.2" x2="886.7" y2="72.3" stroke="#dcdcdc" stroke-width="1.4"/><line x1="886.7" y1="72.3" x2="885" y2="81.5" stroke="#dcdcdc" stroke-width="1.4"/><line x1="885" y1="81.5" x2="876.5" y2="84.5" stroke="#dcdcdc" stroke-width="1.4"/><line x1="876.5" y1="84.5" x2="868.7" y2="78.4" stroke="#dcdcdc" stroke-width="1.4"/><line x1="868.7" y1="78.4" x2="870.4" y2="69.3" stroke="#dcdcdc" stroke-width="1.4"/><circle cx="857.1" cy="48.9" r="3.1" fill="url(#ballG)"/><circle cx="865.3" cy="53.4" r="3.1" fill="url(#ballG)"/><circle cx="863.2" cy="63.1" r="3.1" fill="url(#ballG)"/><circle cx="856.1" cy="66.2" r="2.9" fill="url(#ballR)"/><circle cx="870.4" cy="69.3" r="2.9" fill="url(#ballB)"/><circle cx="879.5" cy="66.2" r="3.1" fill="url(#ballG)"/><circle cx="886.7" cy="72.3" r="3.1" fill="url(#ballG)"/><circle cx="885" cy="81.5" r="2.9" fill="url(#ballR)"/><circle cx="876.5" cy="84.5" r="3.1" fill="url(#ballG)"/><circle cx="868.7" cy="78.4" r="3.1" fill="url(#ballG)"/><line x1="827.6" y1="113" x2="835.7" y2="114" stroke="#dcdcdc" stroke-width="1.4"/><line x1="835.7" y1="114" x2="839.8" y2="104.9" stroke="#dcdcdc" stroke-width="1.4"/><line x1="839.8" y1="104.9" x2="834.7" y2="98.8" stroke="#dcdcdc" stroke-width="1.4"/><line x1="839.8" y1="104.9" x2="846.9" y2="103.9" stroke="#dcdcdc" stroke-width="1.4"/><line x1="846.9" y1="103.9" x2="851" y2="96.8" stroke="#dcdcdc" stroke-width="1.4"/><line x1="851" y1="96.8" x2="860.2" y2="95.7" stroke="#dcdcdc" stroke-width="1.4"/><line x1="860.2" y1="95.7" x2="864.7" y2="101.9" stroke="#dcdcdc" stroke-width="1.4"/><line x1="864.7" y1="101.9" x2="861.8" y2="110" stroke="#dcdcdc" stroke-width="1.4"/><line x1="861.8" y1="110" x2="853.1" y2="111" stroke="#dcdcdc" stroke-width="1.4"/><line x1="853.1" y1="111" x2="846.9" y2="103.9" stroke="#dcdcdc" stroke-width="1.4"/><circle cx="827.6" cy="113" r="3.1" fill="url(#ballG)"/><circle cx="835.7" cy="114" r="3.1" fill="url(#ballG)"/><circle cx="839.8" cy="104.9" r="3.1" fill="url(#ballG)"/><circle cx="834.7" cy="98.8" r="2.9" fill="url(#ballR)"/><circle cx="846.9" cy="103.9" r="2.9" fill="url(#ballB)"/><circle cx="851" cy="96.8" r="3.1" fill="url(#ballG)"/><circle cx="860.2" cy="95.7" r="3.1" fill="url(#ballG)"/><circle cx="864.7" cy="101.9" r="2.9" fill="url(#ballR)"/><circle cx="861.8" cy="110" r="3.1" fill="url(#ballG)"/><circle cx="853.1" cy="111" r="3.1" fill="url(#ballG)"/><line x1="919.3" y1="139.5" x2="914.2" y2="128.3" stroke="#dcdcdc" stroke-width="1.4"/><line x1="914.2" y1="128.3" x2="903" y2="129.4" stroke="#dcdcdc" stroke-width="1.4"/><line x1="903" y1="129.4" x2="898.9" y2="139.5" stroke="#dcdcdc" stroke-width="1.4"/><line x1="903" y1="129.4" x2="896.4" y2="122.2" stroke="#dcdcdc" stroke-width="1.4"/><line x1="896.4" y1="122.2" x2="900.9" y2="111" stroke="#dcdcdc" stroke-width="1.4"/><line x1="900.9" y1="111" x2="893.8" y2="102.9" stroke="#dcdcdc" stroke-width="1.4"/><line x1="893.8" y1="102.9" x2="882.6" y2="104.9" stroke="#dcdcdc" stroke-width="1.4"/><line x1="882.6" y1="104.9" x2="879.5" y2="115.1" stroke="#dcdcdc" stroke-width="1.4"/><line x1="879.5" y1="115.1" x2="885.6" y2="123.2" stroke="#dcdcdc" stroke-width="1.4"/><line x1="885.6" y1="123.2" x2="896.4" y2="122.2" stroke="#dcdcdc" stroke-width="1.4"/><circle cx="919.3" cy="139.5" r="3.1" fill="url(#ballG)"/><circle cx="914.2" cy="128.3" r="3.1" fill="url(#ballG)"/><circle cx="903" cy="129.4" r="3.1" fill="url(#ballG)"/><circle cx="898.9" cy="139.5" r="2.9" fill="url(#ballR)"/><circle cx="896.4" cy="122.2" r="2.9" fill="url(#ballB)"/><circle cx="900.9" cy="111" r="3.1" fill="url(#ballG)"/><circle cx="893.8" cy="102.9" r="3.1" fill="url(#ballG)"/><circle cx="882.6" cy="104.9" r="2.9" fill="url(#ballR)"/><circle cx="879.5" cy="115.1" r="3.1" fill="url(#ballG)"/><circle cx="885.6" cy="123.2" r="3.1" fill="url(#ballG)"/><line x1="857.1" y1="157.3" x2="859.8" y2="166.1" stroke="#dcdcdc" stroke-width="1.4"/><line x1="859.8" y1="166.1" x2="868.3" y2="166.1" stroke="#dcdcdc" stroke-width="1.4"/><line x1="868.3" y1="166.1" x2="872.8" y2="160.8" stroke="#dcdcdc" stroke-width="1.4"/><line x1="868.3" y1="166.1" x2="872.8" y2="173.6" stroke="#dcdcdc" stroke-width="1.4"/><line x1="872.8" y1="173.6" x2="880.6" y2="175" stroke="#dcdcdc" stroke-width="1.4"/><line x1="880.6" y1="175" x2="884.6" y2="182.8" stroke="#dcdcdc" stroke-width="1.4"/><line x1="884.6" y1="182.8" x2="879.5" y2="189.9" stroke="#dcdcdc" stroke-width="1.4"/><line x1="879.5" y1="189.9" x2="871.4" y2="188.9" stroke="#dcdcdc" stroke-width="1.4"/><line x1="871.4" y1="188.9" x2="867.3" y2="181.8" stroke="#dcdcdc" stroke-width="1.4"/><line x1="867.3" y1="181.8" x2="872.8" y2="173.6" stroke="#dcdcdc" stroke-width="1.4"/><circle cx="857.1" cy="157.3" r="3.1" fill="url(#ballG)"/><circle cx="859.8" cy="166.1" r="3.1" fill="url(#ballG)"/><circle cx="868.3" cy="166.1" r="3.1" fill="url(#ballG)"/><circle cx="872.8" cy="160.8" r="2.9" fill="url(#ballR)"/><circle cx="872.8" cy="173.6" r="2.9" fill="url(#ballB)"/><circle cx="880.6" cy="175" r="3.1" fill="url(#ballG)"/><circle cx="884.6" cy="182.8" r="3.1" fill="url(#ballG)"/><circle cx="879.5" cy="189.9" r="2.9" fill="url(#ballR)"/><circle cx="871.4" cy="188.9" r="3.1" fill="url(#ballG)"/><circle cx="867.3" cy="181.8" r="3.1" fill="url(#ballG)"/><line x1="863.2" y1="235.7" x2="851.6" y2="237.8" stroke="#dcdcdc" stroke-width="1.4"/><line x1="851.6" y1="237.8" x2="846.3" y2="226.6" stroke="#dcdcdc" stroke-width="1.4"/><line x1="846.3" y1="226.6" x2="851.6" y2="218.4" stroke="#dcdcdc" stroke-width="1.4"/><line x1="846.3" y1="226.6" x2="836.8" y2="226.6" stroke="#dcdcdc" stroke-width="1.4"/><line x1="836.8" y1="226.6" x2="829.6" y2="216.4" stroke="#dcdcdc" stroke-width="1.4"/><line x1="829.6" y1="216.4" x2="819.4" y2="216.4" stroke="#dcdcdc" stroke-width="1.4"/><line x1="819.4" y1="216.4" x2="812.3" y2="225.1" stroke="#dcdcdc" stroke-width="1.4"/><line x1="812.3" y1="225.1" x2="818.4" y2="234.7" stroke="#dcdcdc" stroke-width="1.4"/><line x1="818.4" y1="234.7" x2="828.6" y2="235.7" stroke="#dcdcdc" stroke-width="1.4"/><line x1="828.6" y1="235.7" x2="836.8" y2="226.6" stroke="#dcdcdc" stroke-width="1.4"/><circle cx="863.2" cy="235.7" r="3.1" fill="url(#ballG)"/><circle cx="851.6" cy="237.8" r="3.1" fill="url(#ballG)"/><circle cx="846.3" cy="226.6" r="3.1" fill="url(#ballG)"/><circle cx="851.6" cy="218.4" r="2.9" fill="url(#ballR)"/><circle cx="836.8" cy="226.6" r="2.9" fill="url(#ballB)"/><circle cx="829.6" cy="216.4" r="3.1" fill="url(#ballG)"/><circle cx="819.4" cy="216.4" r="3.1" fill="url(#ballG)"/><circle cx="812.3" cy="225.1" r="2.9" fill="url(#ballR)"/><circle cx="818.4" cy="234.7" r="3.1" fill="url(#ballG)"/><circle cx="828.6" cy="235.7" r="3.1" fill="url(#ballG)"/><line x1="895.8" y1="220.5" x2="900.9" y2="229.6" stroke="#dcdcdc" stroke-width="1.4"/><line x1="900.9" y1="229.6" x2="912.1" y2="228" stroke="#dcdcdc" stroke-width="1.4"/><line x1="912.1" y1="228" x2="914.8" y2="219.9" stroke="#dcdcdc" stroke-width="1.4"/><line x1="912.1" y1="228" x2="918.2" y2="234.7" stroke="#dcdcdc" stroke-width="1.4"/><line x1="918.2" y1="234.7" x2="929" y2="233.7" stroke="#dcdcdc" stroke-width="1.4"/><line x1="929" y1="233.7" x2="935.6" y2="241.9" stroke="#dcdcdc" stroke-width="1.4"/><line x1="935.6" y1="241.9" x2="931.9" y2="251.6" stroke="#dcdcdc" stroke-width="1.4"/><line x1="931.9" y1="251.6" x2="921.3" y2="253.1" stroke="#dcdcdc" stroke-width="1.4"/><line x1="921.3" y1="253.1" x2="915.2" y2="245.5" stroke="#dcdcdc" stroke-width="1.4"/><line x1="915.2" y1="245.5" x2="918.2" y2="234.7" stroke="#dcdcdc" stroke-width="1.4"/><circle cx="895.8" cy="220.5" r="3.1" fill="url(#ballG)"/><circle cx="900.9" cy="229.6" r="3.1" fill="url(#ballG)"/><circle cx="912.1" cy="228" r="3.1" fill="url(#ballG)"/><circle cx="914.8" cy="219.9" r="2.9" fill="url(#ballR)"/><circle cx="918.2" cy="234.7" r="2.9" fill="url(#ballB)"/><circle cx="929" cy="233.7" r="3.1" fill="url(#ballG)"/><circle cx="935.6" cy="241.9" r="3.1" fill="url(#ballG)"/><circle cx="931.9" cy="251.6" r="2.9" fill="url(#ballR)"/><circle cx="921.3" cy="253.1" r="3.1" fill="url(#ballG)"/><circle cx="915.2" cy="245.5" r="3.1" fill="url(#ballG)"/><line x1="804.6" y1="166.3" x2="810" y2="155.8" stroke="#dcdcdc" stroke-width="1.4"/><line x1="810" y1="155.8" x2="822.1" y2="157.9" stroke="#dcdcdc" stroke-width="1.4"/><line x1="822.1" y1="157.9" x2="825.8" y2="167.5" stroke="#dcdcdc" stroke-width="1.4"/><line x1="822.1" y1="157.9" x2="828.8" y2="150" stroke="#dcdcdc" stroke-width="1.4"/><line x1="828.8" y1="150" x2="825" y2="138.3" stroke="#dcdcdc" stroke-width="1.4"/><line x1="825" y1="138.3" x2="832.5" y2="129.6" stroke="#dcdcdc" stroke-width="1.4"/><line x1="832.5" y1="129.6" x2="843.8" y2="131.3" stroke="#dcdcdc" stroke-width="1.4"/><line x1="843.8" y1="131.3" x2="847.5" y2="142.5" stroke="#dcdcdc" stroke-width="1.4"/><line x1="847.5" y1="142.5" x2="840.4" y2="150.8" stroke="#dcdcdc" stroke-width="1.4"/><line x1="840.4" y1="150.8" x2="828.8" y2="150" stroke="#dcdcdc" stroke-width="1.4"/><circle cx="804.6" cy="166.3" r="3.1" fill="url(#ballG)"/><circle cx="810" cy="155.8" r="3.1" fill="url(#ballG)"/><circle cx="822.1" cy="157.9" r="3.1" fill="url(#ballG)"/><circle cx="825.8" cy="167.5" r="2.9" fill="url(#ballR)"/><circle cx="828.8" cy="150" r="2.9" fill="url(#ballB)"/><circle cx="825" cy="138.3" r="3.1" fill="url(#ballG)"/><circle cx="832.5" cy="129.6" r="3.1" fill="url(#ballG)"/><circle cx="843.8" cy="131.3" r="2.9" fill="url(#ballR)"/><circle cx="847.5" cy="142.5" r="3.1" fill="url(#ballG)"/><circle cx="840.4" cy="150.8" r="3.1" fill="url(#ballG)"/><circle cx="708" cy="38" r="11" fill="#7c9dd6" opacity="1.0"/><path d="M703,38 H713 M708,33 V43" stroke="#fff" stroke-width="2.4"/><circle cx="730.7" cy="83.5" r="11" fill="#7c9dd6" opacity="1.0"/><path d="M725.8,83.5 H735.7 M730.7,78.5 V88.5" stroke="#fff" stroke-width="2.4"/><circle cx="702.3" cy="104.4" r="11" fill="#7c9dd6" opacity="1.0"/><path d="M697.3,104.4 H707.2 M702.3,99.5 V109.4" stroke="#fff" stroke-width="2.4"/><circle cx="736.4" cy="161.3" r="11" fill="#7c9dd6" opacity="1.0"/><path d="M731.4,161.3 H741.4 M736.4,156.4 V166.2" stroke="#fff" stroke-width="2.4"/><circle cx="706" cy="203" r="11" fill="#7c9dd6" opacity="1.0"/><path d="M701,203 H711 M706,198.1 V207.9" stroke="#fff" stroke-width="2.4"/><circle cx="736.4" cy="224" r="11" fill="#7c9dd6" opacity="1.0"/><path d="M731.4,224 H741.4 M736.4,219.1 V228.9" stroke="#fff" stroke-width="2.4"/><circle cx="708" cy="269.5" r="11" fill="#7c9dd6" opacity="1.0"/><path d="M703,269.5 H713 M708,264.6 V274.4" stroke="#fff" stroke-width="2.4"/><circle cx="972.6" cy="28.5" r="11" fill="#7c9dd6" opacity="1.0"/><path d="M967.6,28.5 H977.6 M972.6,23.6 V33.5" stroke="#fff" stroke-width="2.4"/><circle cx="1003" cy="68.3" r="11" fill="#7c9dd6" opacity="1.0"/><path d="M998,68.3 H1008 M1003,63.3 V73.2" stroke="#fff" stroke-width="2.4"/><circle cx="973.7" cy="113.9" r="11" fill="#7c9dd6" opacity="1.0"/><path d="M968.8,113.9 H978.7 M973.7,109 V118.9" stroke="#fff" stroke-width="2.4"/><circle cx="1003" cy="142.4" r="11" fill="#7c9dd6" opacity="1.0"/><path d="M998,142.4 H1008 M1003,137.5 V147.3" stroke="#fff" stroke-width="2.4"/><circle cx="978.3" cy="197.4" r="11" fill="#7c9dd6" opacity="1.0"/><path d="M973.3,197.4 H983.2 M978.3,192.5 V202.3" stroke="#fff" stroke-width="2.4"/><circle cx="1006" cy="218.3" r="11" fill="#7c9dd6" opacity="1.0"/><path d="M1001,218.3 H1011 M1006,213.4 V223.2" stroke="#fff" stroke-width="2.4"/><circle cx="983.2" cy="256.3" r="11" fill="#7c9dd6" opacity="1.0"/><path d="M978.2,256.3 H988.2 M983.2,251.4 V261.2" stroke="#fff" stroke-width="2.4"/><circle cx="1013.6" cy="262" r="11" fill="#7c9dd6" opacity="1.0"/><path d="M1008.6,262 H1018.6 M1013.6,257.1 V266.9" stroke="#fff" stroke-width="2.4"/><circle cx="888.3" cy="32.6" r="11" fill="#8aa8dc" opacity="1.0"/><path d="M883.3,32.6 H893.2 M888.3,27.7 V37.6" stroke="#fff" stroke-width="2.4"/><circle cx="851.6" cy="267.3" r="11" fill="#8aa8dc" opacity="1.0"/><path d="M846.6,267.3 H856.6 M851.6,262.4 V272.2" stroke="#fff" stroke-width="2.4"/><circle cx="732.6" cy="47.5" r="6.3" fill="#f2a366"/><path d="M730.2,48 H735" stroke="#fff" stroke-width="1.9"/><circle cx="704.9" cy="67.6" r="6.3" fill="#f2a366"/><path d="M702.5,68.1 H707.3" stroke="#fff" stroke-width="1.9"/><circle cx="732.6" cy="115.8" r="6.3" fill="#f2a366"/><path d="M730.2,116.3 H735" stroke="#fff" stroke-width="1.9"/><circle cx="714.4" cy="164" r="6.3" fill="#f2a366"/><path d="M712,164.5 H716.8" stroke="#fff" stroke-width="1.9"/><circle cx="733.8" cy="189" r="6.3" fill="#f2a366"/><path d="M731.4,189.5 H736.2" stroke="#fff" stroke-width="1.9"/><circle cx="708" cy="238.4" r="6.3" fill="#f2a366"/><path d="M705.6,238.9 H710.4" stroke="#fff" stroke-width="1.9"/><circle cx="738.3" cy="261.2" r="6.3" fill="#f2a366"/><path d="M735.9,261.7 H740.7" stroke="#fff" stroke-width="1.9"/><circle cx="841.9" cy="52" r="6.3" fill="#f2a366"/><path d="M839.5,52.5 H844.3" stroke="#fff" stroke-width="1.9"/><circle cx="806.2" cy="123.2" r="6.3" fill="#f2a366"/><path d="M803.8,123.7 H808.6" stroke="#fff" stroke-width="1.9"/><circle cx="788.5" cy="159.4" r="6.3" fill="#f2a366"/><path d="M786.1,159.9 H790.9" stroke="#fff" stroke-width="1.9"/><circle cx="891.8" cy="157.3" r="6.3" fill="#f2a366"/><path d="M889.4,157.8 H894.2" stroke="#fff" stroke-width="1.9"/><circle cx="919.3" cy="77.4" r="6.3" fill="#f2a366"/><path d="M916.9,77.9 H921.7" stroke="#fff" stroke-width="1.9"/><circle cx="870.4" cy="219.4" r="6.3" fill="#f2a366"/><path d="M868,219.9 H872.8" stroke="#fff" stroke-width="1.9"/><circle cx="941.7" cy="222.5" r="6.3" fill="#f2a366"/><path d="M939.3,223 H944.1" stroke="#fff" stroke-width="1.9"/><circle cx="998.4" cy="39.9" r="6.3" fill="#f2a366"/><path d="M996,40.4 H1000.8" stroke="#fff" stroke-width="1.9"/><circle cx="968" cy="62.6" r="6.3" fill="#f2a366"/><path d="M965.6,63.1 H970.4" stroke="#fff" stroke-width="1.9"/><circle cx="997.3" cy="115.8" r="6.3" fill="#f2a366"/><path d="M994.9,116.3 H999.7" stroke="#fff" stroke-width="1.9"/><circle cx="978.3" cy="148" r="6.3" fill="#f2a366"/><path d="M975.9,148.5 H980.7" stroke="#fff" stroke-width="1.9"/><circle cx="1003.3" cy="191.7" r="6.3" fill="#f2a366"/><path d="M1000.9,192.2 H1005.7" stroke="#fff" stroke-width="1.9"/><circle cx="988.1" cy="226.6" r="6.3" fill="#f2a366"/><path d="M985.7,227.1 H990.5" stroke="#fff" stroke-width="1.9"/><circle cx="1019.3" cy="239.2" r="6.3" fill="#f2a366"/><path d="M1016.9,239.7 H1021.7" stroke="#fff" stroke-width="1.9"/><circle cx="990" cy="281" r="6.3" fill="#f2a366"/><path d="M987.6,281.5 H992.4" stroke="#fff" stroke-width="1.9"/><g transform="translate(778.7 82.5) rotate(-45.9)"><rect x="-4.4" y="-3.4" width="2.2" height="6.8" fill="#1b3f86"/><rect x="-1" y="-3.4" width="2.2" height="6.8" fill="#1b3f86"/><rect x="2.3" y="-3.4" width="2.2" height="6.8" fill="#1b3f86"/></g><g transform="translate(766.5 105.9) rotate(94.2)"><rect x="-4.4" y="-3.4" width="2.2" height="6.8" fill="#1b3f86"/><rect x="-1" y="-3.4" width="2.2" height="6.8" fill="#1b3f86"/><rect x="2.3" y="-3.4" width="2.2" height="6.8" fill="#1b3f86"/></g><g transform="translate(846.9 68.2) rotate(-12.3)"><rect x="-4.4" y="-3.4" width="2.2" height="6.8" fill="#1b3f86"/><rect x="-1" y="-3.4" width="2.2" height="6.8" fill="#1b3f86"/><rect x="2.3" y="-3.4" width="2.2" height="6.8" fill="#1b3f86"/></g><g transform="translate(834.7 90.6) rotate(90)"><rect x="-4.4" y="-3.4" width="2.2" height="6.8" fill="#1b3f86"/><rect x="-1" y="-3.4" width="2.2" height="6.8" fill="#1b3f86"/><rect x="2.3" y="-3.4" width="2.2" height="6.8" fill="#1b3f86"/></g><g transform="translate(892.8 140.6) rotate(-10.2)"><rect x="-4.4" y="-3.4" width="2.2" height="6.8" fill="#1b3f86"/><rect x="-1" y="-3.4" width="2.2" height="6.8" fill="#1b3f86"/><rect x="2.3" y="-3.4" width="2.2" height="6.8" fill="#1b3f86"/></g><g transform="translate(874.4 153.2) rotate(101.9)"><rect x="-4.4" y="-3.4" width="2.2" height="6.8" fill="#1b3f86"/><rect x="-1" y="-3.4" width="2.2" height="6.8" fill="#1b3f86"/><rect x="2.3" y="-3.4" width="2.2" height="6.8" fill="#1b3f86"/></g><g transform="translate(828.6 178.7) rotate(-104)"><rect x="-4.4" y="-3.4" width="2.2" height="6.8" fill="#1b3f86"/><rect x="-1" y="-3.4" width="2.2" height="6.8" fill="#1b3f86"/><rect x="2.3" y="-3.4" width="2.2" height="6.8" fill="#1b3f86"/></g><g transform="translate(848 207.2) rotate(72.2)"><rect x="-4.4" y="-3.4" width="2.2" height="6.8" fill="#1b3f86"/><rect x="-1" y="-3.4" width="2.2" height="6.8" fill="#1b3f86"/><rect x="2.3" y="-3.4" width="2.2" height="6.8" fill="#1b3f86"/></g><g transform="translate(930.3 187.7) rotate(-32.3)"><rect x="-4.4" y="-3.4" width="2.2" height="6.8" fill="#1b3f86"/><rect x="-1" y="-3.4" width="2.2" height="6.8" fill="#1b3f86"/><rect x="2.3" y="-3.4" width="2.2" height="6.8" fill="#1b3f86"/></g><g transform="translate(917 210.1) rotate(102.7)"><rect x="-4.4" y="-3.4" width="2.2" height="6.8" fill="#1b3f86"/><rect x="-1" y="-3.4" width="2.2" height="6.8" fill="#1b3f86"/><rect x="2.3" y="-3.4" width="2.2" height="6.8" fill="#1b3f86"/></g><circle cx="767.5" cy="91.7" r="7.4" fill="url(#liG)"/><text x="766.7" y="95.4" font-family="Liberation Serif, serif" font-style="italic" font-weight="bold" font-size="11.8" fill="#1d2a66" text-anchor="middle">Li</text><text x="773.3" y="91.3" font-family="Liberation Serif, serif" font-weight="bold" font-size="5.6" fill="#1d2a66">+</text><circle cx="833.7" cy="77.4" r="7.4" fill="url(#liG)"/><text x="832.9" y="81.1" font-family="Liberation Serif, serif" font-style="italic" font-weight="bold" font-size="11.8" fill="#1d2a66" text-anchor="middle">Li</text><text x="839.5" y="77" font-family="Liberation Serif, serif" font-weight="bold" font-size="5.6" fill="#1d2a66">+</text><circle cx="878.5" cy="142.6" r="7.4" fill="url(#liG)"/><text x="877.7" y="146.3" font-family="Liberation Serif, serif" font-style="italic" font-weight="bold" font-size="11.8" fill="#1d2a66" text-anchor="middle">Li</text><text x="884.3" y="142.2" font-family="Liberation Serif, serif" font-weight="bold" font-size="5.6" fill="#1d2a66">+</text><circle cx="839.8" cy="192" r="7.4" fill="url(#liG)"/><text x="839" y="195.7" font-family="Liberation Serif, serif" font-style="italic" font-weight="bold" font-size="11.8" fill="#1d2a66" text-anchor="middle">Li</text><text x="845.6" y="191.6" font-family="Liberation Serif, serif" font-weight="bold" font-size="5.6" fill="#1d2a66">+</text><circle cx="916" cy="195.8" r="7.4" fill="url(#liG)"/><text x="915.2" y="199.5" font-family="Liberation Serif, serif" font-style="italic" font-weight="bold" font-size="11.8" fill="#1d2a66" text-anchor="middle">Li</text><text x="921.8" y="195.4" font-family="Liberation Serif, serif" font-weight="bold" font-size="5.6" fill="#1d2a66">+</text></g><rect x="681.4" y="10.4" width="356.6" height="279.8" fill="none" stroke="#1f4d96" stroke-width="3" stroke-dasharray="11 10"/><line x1="504" y1="127" x2="681" y2="10.5" stroke="#1f4d96" stroke-width="1.5" stroke-dasharray="5 4"/><line x1="504" y1="170" x2="681" y2="290" stroke="#1f4d96" stroke-width="1.5" stroke-dasharray="5 4"/><text x="35" y="23.3" font-size="25" text-anchor="start" fill="#000" font-weight="bold" textLength="11.5" lengthAdjust="spacingAndGlyphs" >a</text>
<rect x="54.3" y="346" width="289.3" height="233" fill="none" stroke="#1a1a1a" stroke-width="1.9"/><line x1="54.3" y1="579" x2="54.3" y2="583.5" stroke="#1a1a1a" stroke-width="1.3"/><line x1="137.6" y1="579" x2="137.6" y2="583.5" stroke="#1a1a1a" stroke-width="1.3"/><line x1="221" y1="579" x2="221" y2="583.5" stroke="#1a1a1a" stroke-width="1.3"/><line x1="304.3" y1="579" x2="304.3" y2="583.5" stroke="#1a1a1a" stroke-width="1.3"/><line x1="96" y1="579" x2="96" y2="581.8" stroke="#1a1a1a" stroke-width="1.3"/><line x1="179.3" y1="579" x2="179.3" y2="581.8" stroke="#1a1a1a" stroke-width="1.3"/><line x1="262.6" y1="579" x2="262.6" y2="581.8" stroke="#1a1a1a" stroke-width="1.3"/><text x="54.3" y="599.4" font-size="16" text-anchor="middle" fill="#1a1a1a" >4000</text><text x="137.6" y="599.4" font-size="16" text-anchor="middle" fill="#1a1a1a" >3000</text><text x="221" y="599.4" font-size="16" text-anchor="middle" fill="#1a1a1a" >2000</text><text x="304.3" y="599.4" font-size="16" text-anchor="middle" fill="#1a1a1a" >1000</text><text x="112" y="623" font-size="20" fill="#1a1a1a" textLength="173" lengthAdjust="spacingAndGlyphs">Wavenumber (cm<tspan font-size="12" dy="-8">-1</tspan><tspan dy="8">)</tspan></text><text x="42.4" y="462.4" font-size="20" text-anchor="middle" fill="#1a1a1a" transform="rotate(-90 42.4 462.4)" >Transmittance</text><text x="35" y="336.5" font-size="23" text-anchor="start" fill="#000" font-weight="bold" >b</text><text x="72.6" y="385.5" font-size="15.2" text-anchor="start" fill="#4a72bf" textLength="70.6" lengthAdjust="spacingAndGlyphs" >0% LiTFSI</text><text x="72.6" y="422.9" font-size="15.2" text-anchor="start" fill="#3a9dba" textLength="70.6" lengthAdjust="spacingAndGlyphs" >5% LiTFSI</text><text x="69.4" y="461.1" font-size="15.2" text-anchor="start" fill="#e0676a" textLength="77.6" lengthAdjust="spacingAndGlyphs" >10% LiTFSI</text><text x="69.4" y="498.6" font-size="15.2" text-anchor="start" fill="#f2b42a" textLength="77.6" lengthAdjust="spacingAndGlyphs" >15% LiTFSI</text><path d="M54.3,387.1 C58.6,387.2 70.7,387.3 80,387.4 C89.3,387.5 103.3,387.5 110,387.6 C116.7,387.7 117.6,387.5 120,388.1 C122.4,388.7 123.2,390.8 124.5,391.1 C125.8,391.4 127.1,390.4 128,390.1 C128.9,389.9 128.7,390 130,389.6 C131.3,389.2 134,387.8 136,387.6 C138,387.4 140.3,387.8 142,388.3 C143.7,388.8 144.8,390.1 146,390.6 C147.2,391.1 148,391.6 149,391.3 C150,391 150.2,389.2 152,388.6 C153.8,388 152,388 160,387.7 C168,387.5 188.3,387.2 200,387.1 C211.7,387.1 223.6,387.4 230,387.4 C236.4,387.4 236.4,386.7 238.4,387.1 C240.4,387.5 241.1,389.8 242.2,390 C243.3,390.2 243.7,386.7 245,388.6 C246.3,390.5 248.7,400.9 250.1,401.3 C251.5,401.7 252.6,392 253.5,390.9 C254.4,389.8 254.6,395 255.4,394.7 C256.2,394.5 256.9,390.2 258.2,389.4 C259.4,388.6 261.6,388.8 262.9,390 C264.2,391.2 264.7,396.4 265.8,396.5 C266.9,396.6 268.4,390.8 269.5,390.5 C270.6,390.2 271.5,388.4 272.3,394.7 C273.1,401.1 273.4,427.4 274.2,428.6 C275,429.9 276.2,407.9 277.1,402.2 C278.1,396.6 279,395 279.9,394.7 C280.8,394.4 281.8,395.6 282.7,400.3 C283.6,405 284.6,414.9 285.5,422.9 C286.4,430.9 287.6,447.1 288.4,448.4 C289.2,449.7 289.7,431.9 290.3,430.5 C290.9,429.1 291.5,441.8 292.1,439.9 C292.7,438 293.4,423.9 294,419.2 C294.6,414.5 295.1,407.2 295.9,411.6 C296.7,416 297.8,444.9 298.7,445.5 C299.6,446.1 300.7,423.6 301.6,415.4 C302.6,407.2 303.3,400.1 304.4,396.5 C305.5,392.9 306.9,394 308.2,393.7 C309.4,393.4 310.8,393.9 311.9,394.7 C313,395.5 314,398.6 314.8,398.4 C315.6,398.2 315.8,393.1 316.6,393.7 C317.4,394.3 318.6,402 319.5,402.2 C320.4,402.4 320.9,392.8 321.7,394.7 C322.5,396.6 323.3,413.8 324.2,413.5 C325.1,413.2 326.1,396.6 327,392.8 C327.9,389 329,390.3 329.8,390.9 C330.6,391.5 331.1,393.1 331.7,396.5 C332.3,399.9 332.8,404.7 333.6,411.6 C334.4,418.5 335.6,437.4 336.4,438 C337.2,438.6 337.7,416 338.3,415.4 C338.9,414.8 339.6,437 340.2,434.2 C340.8,431.4 341.5,404.7 342.1,398.4 C342.7,392.1 343.4,396.8 343.6,396.5" fill="none" stroke="#4a72bf" stroke-width="1.7" stroke-linejoin="round" stroke-linecap="round"/><path d="M54.3,427.2 C58.6,427.2 70.7,427.4 80,427.5 C89.3,427.6 103.3,427.6 110,427.7 C116.7,427.8 117.6,427.6 120,428.2 C122.4,428.8 123.2,430.9 124.5,431.2 C125.8,431.5 127.1,430.4 128,430.2 C128.9,429.9 128.7,430.1 130,429.7 C131.3,429.3 134,427.9 136,427.7 C138,427.5 140.3,427.9 142,428.4 C143.7,428.9 144.8,430.2 146,430.7 C147.2,431.2 148,431.7 149,431.4 C150,431.1 150.2,429.3 152,428.7 C153.8,428.1 152,428.1 160,427.8 C168,427.6 188.3,427.2 200,427.2 C211.7,427.1 223.6,427.5 230,427.5 C236.4,427.5 236.4,426.8 238.4,427.2 C240.4,427.6 241.1,429.8 242.2,430.1 C243.3,430.3 243.7,426.8 245,428.7 C246.3,430.6 248.7,441 250.1,441.4 C251.5,441.8 252.6,432.1 253.5,431 C254.4,429.9 254.6,435.1 255.4,434.8 C256.2,434.6 256.9,430.3 258.2,429.5 C259.4,428.7 261.6,428.9 262.9,430.1 C264.2,431.3 264.7,436.5 265.8,436.6 C266.9,436.7 268.4,430.9 269.5,430.6 C270.6,430.3 271.5,428.4 272.3,434.8 C273.1,441.2 273.4,467.4 274.2,468.7 C275,469.9 276.2,447.9 277.1,442.3 C278.1,436.7 279,435.1 279.9,434.8 C280.8,434.5 281.8,435.7 282.7,440.4 C283.6,445.1 284.6,455 285.5,463 C286.4,471 287.6,487.2 288.4,488.5 C289.2,489.8 289.7,472 290.3,470.6 C290.9,469.2 291.5,481.9 292.1,480 C292.7,478.1 293.4,464 294,459.3 C294.6,454.6 295.1,447.3 295.9,451.7 C296.7,456.1 297.8,485 298.7,485.6 C299.6,486.2 300.7,463.7 301.6,455.5 C302.6,447.3 303.3,440.2 304.4,436.6 C305.5,433 306.9,434.1 308.2,433.8 C309.4,433.5 310.8,434 311.9,434.8 C313,435.6 314,438.7 314.8,438.5 C315.6,438.3 315.8,433.2 316.6,433.8 C317.4,434.4 318.6,442.1 319.5,442.3 C320.4,442.5 320.9,432.9 321.7,434.8 C322.5,436.7 323.3,453.9 324.2,453.6 C325.1,453.3 326.1,436.7 327,432.9 C327.9,429.1 329,430.4 329.8,431 C330.6,431.6 331.1,433.1 331.7,436.6 C332.3,440 332.8,444.8 333.6,451.7 C334.4,458.6 335.6,477.5 336.4,478.1 C337.2,478.7 337.7,456.1 338.3,455.5 C338.9,454.9 339.6,477.1 340.2,474.3 C340.8,471.5 341.5,444.8 342.1,438.5 C342.7,432.2 343.4,436.9 343.6,436.6" fill="none" stroke="#3a9dba" stroke-width="1.7" stroke-linejoin="round" stroke-linecap="round"/><path d="M54.3,468 C58.6,468.1 70.7,468.2 80,468.3 C89.3,468.4 103.3,468.4 110,468.5 C116.7,468.6 117.6,468.4 120,469 C122.4,469.6 123.2,471.7 124.5,472 C125.8,472.3 127.1,471.2 128,471 C128.9,470.8 128.7,470.9 130,470.5 C131.3,470.1 134,468.7 136,468.5 C138,468.3 140.3,468.7 142,469.2 C143.7,469.7 144.8,471 146,471.5 C147.2,472 148,472.5 149,472.2 C150,471.9 150.2,470.1 152,469.5 C153.8,468.9 152,468.9 160,468.6 C168,468.4 188.3,468.1 200,468 C211.7,467.9 223.6,468.3 230,468.3 C236.4,468.3 236.4,467.6 238.4,468 C240.4,468.4 241.1,470.6 242.2,470.9 C243.3,471.1 243.7,467.6 245,469.5 C246.3,471.4 248.7,481.8 250.1,482.2 C251.5,482.6 252.6,472.9 253.5,471.8 C254.4,470.7 254.6,475.9 255.4,475.6 C256.2,475.4 256.9,471.1 258.2,470.3 C259.4,469.5 261.6,469.7 262.9,470.9 C264.2,472.1 264.7,477.3 265.8,477.4 C266.9,477.5 268.4,471.7 269.5,471.4 C270.6,471.1 271.5,469.2 272.3,475.6 C273.1,482 273.4,508.2 274.2,509.5 C275,510.8 276.2,488.8 277.1,483.1 C278.1,477.5 279,475.9 279.9,475.6 C280.8,475.3 281.8,476.5 282.7,481.2 C283.6,485.9 284.6,495.8 285.5,503.8 C286.4,511.8 287.6,528 288.4,529.3 C289.2,530.6 289.7,512.8 290.3,511.4 C290.9,510 291.5,522.7 292.1,520.8 C292.7,518.9 293.4,504.8 294,500.1 C294.6,495.4 295.1,488.1 295.9,492.5 C296.7,496.9 297.8,525.8 298.7,526.4 C299.6,527 300.7,504.5 301.6,496.3 C302.6,488.1 303.3,481 304.4,477.4 C305.5,473.8 306.9,474.9 308.2,474.6 C309.4,474.3 310.8,474.8 311.9,475.6 C313,476.4 314,479.5 314.8,479.3 C315.6,479.1 315.8,474 316.6,474.6 C317.4,475.2 318.6,482.9 319.5,483.1 C320.4,483.3 320.9,473.7 321.7,475.6 C322.5,477.5 323.3,494.7 324.2,494.4 C325.1,494.1 326.1,477.5 327,473.7 C327.9,469.9 329,471.2 329.8,471.8 C330.6,472.4 331.1,473.9 331.7,477.4 C332.3,480.8 332.8,485.6 333.6,492.5 C334.4,499.4 335.6,518.3 336.4,518.9 C337.2,519.5 337.7,496.9 338.3,496.3 C338.9,495.7 339.6,517.9 340.2,515.1 C340.8,512.3 341.5,485.6 342.1,479.3 C342.7,473 343.4,477.7 343.6,477.4" fill="none" stroke="#e0676a" stroke-width="1.7" stroke-linejoin="round" stroke-linecap="round"/><path d="M54.3,510.5 C58.6,510.6 70.7,510.7 80,510.8 C89.3,510.9 103.3,510.9 110,511 C116.7,511.1 117.6,510.9 120,511.5 C122.4,512.1 123.2,514.2 124.5,514.5 C125.8,514.8 127.1,513.8 128,513.5 C128.9,513.2 128.7,513.4 130,513 C131.3,512.6 134,511.2 136,511 C138,510.8 140.3,511.2 142,511.7 C143.7,512.2 144.8,513.5 146,514 C147.2,514.5 148,515 149,514.7 C150,514.4 150.2,512.6 152,512 C153.8,511.4 152,511.4 160,511.1 C168,510.9 188.3,510.6 200,510.5 C211.7,510.4 223.6,510.8 230,510.8 C236.4,510.8 236.4,510 238.4,510.5 C240.4,511 241.1,513.3 242.2,513.6 C243.3,513.8 243.7,510.1 245,512.1 C246.3,514.1 248.7,525.1 250.1,525.6 C251.5,526 252.6,515.7 253.5,514.5 C254.4,513.4 254.6,518.8 255.4,518.6 C256.2,518.3 256.9,513.8 258.2,512.9 C259.4,512.1 261.6,512.3 262.9,513.6 C264.2,514.8 264.7,520.4 265.8,520.5 C266.9,520.6 268.4,514.4 269.5,514.1 C270.6,513.8 271.5,511.8 272.3,518.6 C273.1,525.3 273.4,553.2 274.2,554.5 C275,555.8 276.2,532.5 277.1,526.5 C278.1,520.5 279,518.9 279.9,518.6 C280.8,518.2 281.8,519.5 282.7,524.5 C283.6,529.5 284.6,540 285.5,548.4 C286.4,556.9 287.6,574.1 288.4,575.5 C289.2,576.8 289.7,558 290.3,556.5 C290.9,555 291.5,568.5 292.1,566.5 C292.7,564.5 293.4,549.5 294,544.5 C294.6,539.5 295.1,531.8 295.9,536.5 C296.7,541.1 297.8,571.7 298.7,572.4 C299.6,573.1 300.7,549.2 301.6,540.5 C302.6,531.8 303.3,524.3 304.4,520.5 C305.5,516.6 306.9,517.8 308.2,517.5 C309.4,517.2 310.8,517.7 311.9,518.6 C313,519.4 314,522.7 314.8,522.5 C315.6,522.3 315.8,516.8 316.6,517.5 C317.4,518.2 318.6,526.3 319.5,526.5 C320.4,526.7 320.9,516.6 321.7,518.6 C322.5,520.6 323.3,538.8 324.2,538.5 C325.1,538.1 326.1,520.5 327,516.5 C327.9,512.5 329,513.9 329.8,514.5 C330.6,515.2 331.1,516.8 331.7,520.5 C332.3,524.1 332.8,529.1 333.6,536.5 C334.4,543.8 335.6,563.8 336.4,564.5 C337.2,565.1 337.7,541.2 338.3,540.5 C338.9,539.8 339.6,563.4 340.2,560.4 C340.8,557.4 341.5,529.1 342.1,522.5 C342.7,515.8 343.4,520.8 343.6,520.5" fill="none" stroke="#f2b42a" stroke-width="1.7" stroke-linejoin="round" stroke-linecap="round"/><rect x="238.4" y="374.9" width="16" height="157.7" fill="none" stroke="#d0524f" stroke-width="1.2" stroke-dasharray="3 2.2"/>
<rect x="407.6" y="345.7" width="289.9" height="233.1" fill="none" stroke="#1a1a1a" stroke-width="1.9"/><line x1="449" y1="578.8" x2="449" y2="583.3" stroke="#1a1a1a" stroke-width="1.3"/><line x1="500.8" y1="578.8" x2="500.8" y2="583.3" stroke="#1a1a1a" stroke-width="1.3"/><line x1="552.6" y1="578.8" x2="552.6" y2="583.3" stroke="#1a1a1a" stroke-width="1.3"/><line x1="604.5" y1="578.8" x2="604.5" y2="583.3" stroke="#1a1a1a" stroke-width="1.3"/><line x1="656.3" y1="578.8" x2="656.3" y2="583.3" stroke="#1a1a1a" stroke-width="1.3"/><line x1="423.1" y1="578.8" x2="423.1" y2="581.6" stroke="#1a1a1a" stroke-width="1.3"/><line x1="474.9" y1="578.8" x2="474.9" y2="581.6" stroke="#1a1a1a" stroke-width="1.3"/><line x1="526.7" y1="578.8" x2="526.7" y2="581.6" stroke="#1a1a1a" stroke-width="1.3"/><line x1="578.6" y1="578.8" x2="578.6" y2="581.6" stroke="#1a1a1a" stroke-width="1.3"/><line x1="630.4" y1="578.8" x2="630.4" y2="581.6" stroke="#1a1a1a" stroke-width="1.3"/><line x1="682.2" y1="578.8" x2="682.2" y2="581.6" stroke="#1a1a1a" stroke-width="1.3"/><text x="449" y="599.4" font-size="16" text-anchor="middle" fill="#1a1a1a" >1800</text><text x="500.8" y="599.4" font-size="16" text-anchor="middle" fill="#1a1a1a" >1750</text><text x="552.6" y="599.4" font-size="16" text-anchor="middle" fill="#1a1a1a" >1700</text><text x="604.5" y="599.4" font-size="16" text-anchor="middle" fill="#1a1a1a" >1650</text><text x="656.3" y="599.4" font-size="16" text-anchor="middle" fill="#1a1a1a" >1600</text><text x="465.8" y="621" font-size="20" fill="#1a1a1a" textLength="173" lengthAdjust="spacingAndGlyphs">Wavenumber (cm<tspan font-size="12" dy="-8">-1</tspan><tspan dy="8">)</tspan></text><text x="395.8" y="462.1" font-size="20" text-anchor="middle" fill="#1a1a1a" transform="rotate(-90 395.8 462.1)" >Transmittance</text><text x="384" y="337" font-size="23" text-anchor="start" fill="#000" font-weight="bold" >c</text><path d="M408.3,360.5 C410.8,360.3 416.4,358.4 423.3,359.2 C430.2,360 442.5,364.9 449.7,365.2 C456.9,365.5 460,361.4 466.7,361 C473.4,360.6 483.6,361.3 490,362.6 C496.4,363.9 500.7,366.1 505.1,368.8 C509.5,371.5 512.6,375.3 516.4,378.9 C520.2,382.5 523.1,387.4 527.7,390.2 C532.3,393 539.4,395.9 544,395.9 C548.6,395.9 551.3,392.4 555.3,390.2 C559.3,388 563.7,384.3 567.9,382.7 C572.1,381.1 576.7,380.4 580.5,380.8 C584.3,381.2 587.2,380.4 590.5,385.2 C593.8,390 597.2,398.8 600,409.4 C602.8,420 605,437.4 607.5,449 C610,460.6 612.6,470.6 615.1,479.1 C617.6,487.6 619.9,495.1 622.6,499.8 C625.3,504.5 628.6,507.1 631.1,507.3 C633.6,507.5 635.4,505.2 637.7,500.8 C640.1,496.4 642.4,489.9 645.2,481 C648,472.1 651.5,456.8 654.6,447.1 C657.7,437.4 661.6,427.5 664,422.6 C666.4,417.7 667.1,417.5 668.7,417.9 C670.3,418.3 672.2,418.3 673.8,424.8 C675.4,431.3 677,446.8 678.5,456.8 C680,466.8 681.3,481.9 682.7,485 C684.1,488.1 685.2,482.6 687,475.7 C688.8,468.8 691.9,454.7 693.6,443.7 C695.3,432.7 696.8,415.4 697.4,409.7" fill="none" stroke="#f2b42a" stroke-width="1.8" stroke-linejoin="round" stroke-linecap="round"/><path d="M408.3,358.6 C410.8,358.1 418.6,355.8 423.3,355.8 C428,355.8 432.1,357.2 436.5,358.6 C440.9,360 445,364.1 449.7,364.3 C454.4,364.5 459.8,360.3 464.8,359.6 C469.8,358.9 475.7,359.6 479.9,360 C484.1,360.4 486.2,360.6 490,361.9 C493.8,363.2 499,364.4 502.6,367.6 C506.2,370.9 508.9,376.6 511.4,381.4 C513.9,386.2 514.9,392.5 517.6,396.5 C520.3,400.5 524.3,404.7 527.7,405.3 C531.1,405.9 534.4,402 537.8,400.3 C541.1,398.6 544,397.7 547.8,395.2 C551.6,392.7 556.4,387.8 560.4,385.2 C564.4,382.6 568.4,380.6 571.7,379.5 C575.1,378.4 577.6,377.6 580.5,378.3 C583.4,379 586.8,380.6 589.3,383.9 C591.8,387.1 593.8,390.4 595.6,397.8 C597.4,405.2 598,412.8 600,428.2 C602,443.6 605.3,475.6 607.5,490.4 C609.7,505.2 611.2,511.3 613.2,516.8 C615.2,522.3 616.3,523.6 619.8,523.4 C623.2,523.2 630.4,519.1 633.9,515.8 C637.4,512.5 638.1,509.7 640.5,503.6 C642.9,497.5 645.3,488.5 648,479.1 C650.7,469.7 653.5,456.8 656.5,447.1 C659.5,437.4 663.7,425.6 665.9,420.7 C668.1,415.8 668.4,417.2 669.7,417.9 C671,418.6 672.3,418.5 673.8,425 C675.3,431.5 677,446.6 678.5,456.8 C680,467 681.3,482.9 682.7,486 C684.1,489.1 685.2,482.8 687,475.7 C688.8,468.6 691.9,454.7 693.6,443.7 C695.3,432.7 696.8,415.4 697.4,409.7" fill="none" stroke="#e0676a" stroke-width="1.8" stroke-linejoin="round" stroke-linecap="round"/><path d="M408.3,359.6 C410.8,359.2 416.4,356.4 423.3,357.3 C430.2,358.2 442.5,364.4 449.7,364.9 C456.9,365.4 460,360.7 466.7,360.5 C473.4,360.3 484.4,362.4 490,363.8 C495.6,365.2 496.9,365.9 500,368.8 C503.1,371.7 506.3,375.7 508.8,381.4 C511.3,387.1 513,395.9 515.1,402.8 C517.2,409.7 519.3,418.4 521.4,422.9 C523.5,427.4 525.4,429.6 527.7,429.8 C530,430 532.7,427.4 535.2,424.1 C537.7,420.9 539.4,415.1 542.8,410.3 C546.1,405.5 551.1,399.4 555.3,395.2 C559.5,391 563.7,387.4 567.9,385.2 C572.1,383 576.9,381.9 580.5,382 C584.1,382.1 586.6,382.3 589.3,385.8 C592,389.3 594.7,388.9 596.8,402.8 C598.9,416.7 599.6,448.9 601.8,469.4 C603.9,489.9 607.3,511.7 609.7,526 C612.1,540.3 613.5,553.5 616,555.4 C618.5,557.3 621.4,545.8 624.5,537.5 C627.6,529.2 631.3,517.1 634.8,505.5 C638.2,493.9 641.9,479.7 645.2,467.8 C648.5,455.9 651.5,442.2 654.6,433.9 C657.7,425.6 661.6,420.7 664,417.9 C666.4,415.1 667.3,416.2 668.7,417 C670.1,417.8 671.1,417.6 672.5,422.6 C673.9,427.6 675.5,436.3 677.2,447.1 C678.9,457.9 681.3,482.8 682.9,487.6 C684.5,492.4 685.2,483 687,475.7 C688.8,468.4 691.9,454.7 693.6,443.7 C695.3,432.7 696.8,415.4 697.4,409.7" fill="none" stroke="#3a9dba" stroke-width="1.8" stroke-linejoin="round" stroke-linecap="round"/><path d="M408.3,363 C410.8,362.8 418.6,361.3 423.3,361.5 C428,361.7 431.8,363.2 436.5,364.3 C441.2,365.4 446.9,368 451.6,368.1 C456.3,368.2 459.8,365.4 464.8,365.2 C469.8,365 477.6,366.4 481.8,367.1 C486,367.8 487.4,368.4 490,369.5 C492.6,370.6 495.2,371.3 497.5,373.9 C499.8,376.5 501.7,379.8 503.8,385.2 C505.9,390.6 508,397.7 510.1,406.5 C512.2,415.3 514.3,427.9 516.4,438 C518.5,448.1 520.9,461.2 522.7,466.9 C524.5,472.6 525.5,472.6 527,472 C528.5,471.4 529.3,468.8 531.5,463.1 C533.7,457.4 537.4,446 540.3,438 C543.2,430 546.1,422.4 549,415.3 C551.9,408.2 554.8,400 557.9,395.2 C561,390.4 564.5,388.4 567.9,386.4 C571.2,384.4 575.1,383.8 578,383.3 C580.9,382.8 583.4,382.6 585.5,383.3 C587.6,384 588.8,384.2 590.5,387.7 C592.2,391.1 593.9,390.4 595.6,404 C597.3,417.6 598.6,447.5 600.6,469.4 C602.6,491.3 605.5,518.7 607.8,535.4 C610,552.1 612,567 614.1,569.5 C616.2,572 618.4,560.1 620.7,550.7 C623.1,541.3 625.9,524.3 628.2,513 C630.6,501.7 632.8,492.3 634.8,482.9 C636.8,473.5 638.1,465.3 640.5,456.5 C642.9,447.7 646.3,437 649,430.1 C651.7,423.2 653.8,418.4 656.5,415.1 C659.2,411.8 662.6,410.4 665,410.4 C667.4,410.4 668.9,410.6 670.6,415.1 C672.3,419.7 673.4,425.8 675.3,437.7 C677.2,449.6 679.7,481 681.9,486.6 C684.1,492.2 686.5,479.1 688.5,471.6 C690.5,464.1 692.7,451.3 694.2,441.4 C695.7,431.5 696.9,416.9 697.4,412" fill="none" stroke="#4a72bf" stroke-width="1.8" stroke-linejoin="round" stroke-linecap="round"/><line x1="515.8" y1="469.4" x2="529.9" y2="413.4" stroke="#333" stroke-width="1.6" stroke-dasharray="4 3"/><path d="M532.1,404.7 L533.1,415.3 L526.2,413.5 Z" fill="#333"/><line x1="606" y1="570.3" x2="618.9" y2="516.7" stroke="#333" stroke-width="1.6" stroke-dasharray="4 3"/><path d="M621,508 L622.2,518.6 L615.2,516.9 Z" fill="#333"/><line x1="416.3" y1="507.8" x2="449.2" y2="507.8" stroke="#4a72bf" stroke-width="1.8"/><text x="453" y="512.6" font-size="13.8" text-anchor="start" fill="#1a1a1a" textLength="65.7" lengthAdjust="spacingAndGlyphs" >0% LiTFSI</text><line x1="416.3" y1="525.5" x2="449.2" y2="525.5" stroke="#3a9dba" stroke-width="1.8"/><text x="453" y="530.3" font-size="13.8" text-anchor="start" fill="#1a1a1a" textLength="65.7" lengthAdjust="spacingAndGlyphs" >5% LiTFSI</text><line x1="416.3" y1="543.3" x2="449.2" y2="543.3" stroke="#e0676a" stroke-width="1.8"/><text x="453" y="548.1" font-size="13.8" text-anchor="start" fill="#1a1a1a" textLength="73.3" lengthAdjust="spacingAndGlyphs" >10% LiTFSI</text><line x1="416.3" y1="561.2" x2="449.2" y2="561.2" stroke="#f2b42a" stroke-width="1.8"/><text x="453" y="566" font-size="13.8" text-anchor="start" fill="#1a1a1a" textLength="73.3" lengthAdjust="spacingAndGlyphs" >15% LiTFSI</text>
<rect x="763.2" y="345.8" width="289.8" height="232.9" fill="none" stroke="#1a1a1a" stroke-width="1.9"/><line x1="788.4" y1="578.7" x2="788.4" y2="583.2" stroke="#1a1a1a" stroke-width="1.3"/><line x1="851.2" y1="578.7" x2="851.2" y2="583.2" stroke="#1a1a1a" stroke-width="1.3"/><line x1="914" y1="578.7" x2="914" y2="583.2" stroke="#1a1a1a" stroke-width="1.3"/><line x1="976.7" y1="578.7" x2="976.7" y2="583.2" stroke="#1a1a1a" stroke-width="1.3"/><line x1="1039.5" y1="578.7" x2="1039.5" y2="583.2" stroke="#1a1a1a" stroke-width="1.3"/><line x1="819.8" y1="578.7" x2="819.8" y2="581.5" stroke="#1a1a1a" stroke-width="1.3"/><line x1="882.6" y1="578.7" x2="882.6" y2="581.5" stroke="#1a1a1a" stroke-width="1.3"/><line x1="945.3" y1="578.7" x2="945.3" y2="581.5" stroke="#1a1a1a" stroke-width="1.3"/><line x1="1008.1" y1="578.7" x2="1008.1" y2="581.5" stroke="#1a1a1a" stroke-width="1.3"/><text x="788.4" y="599.4" font-size="16" text-anchor="middle" fill="#1a1a1a" >1800</text><text x="851.2" y="599.4" font-size="16" text-anchor="middle" fill="#1a1a1a" >1750</text><text x="914" y="599.4" font-size="16" text-anchor="middle" fill="#1a1a1a" >1700</text><text x="976.7" y="599.4" font-size="16" text-anchor="middle" fill="#1a1a1a" >1650</text><text x="1039.5" y="599.4" font-size="16" text-anchor="middle" fill="#1a1a1a" >1600</text><text x="821.5" y="621" font-size="20" fill="#1a1a1a" textLength="174" lengthAdjust="spacingAndGlyphs">Wavenumber (cm<tspan font-size="12" dy="-8">-1</tspan><tspan dy="8">)</tspan></text><text x="750.6" y="462.2" font-size="20" text-anchor="middle" fill="#1a1a1a" transform="rotate(-90 750.6 462.2)" >Transmittance</text><text x="740" y="337" font-size="23" text-anchor="start" fill="#000" font-weight="bold" >d</text><path d="M764.4,355.1 C766.2,356.2 770.8,359.1 775.1,361.4 C779.4,363.7 786,368.3 790.2,368.9 C794.4,369.5 796.4,366.5 800.2,365.1 C804,363.7 808.4,361.1 812.8,360.7 C817.2,360.2 821.9,361.7 826.6,362.4 C831.4,363.1 837.6,363.4 841.3,365.1 C845,366.8 846.6,369.7 848.9,372.6 C851.2,375.5 852.8,377.7 855.1,382.7 C857.4,387.7 860.2,396.1 862.7,402.8 C865.2,409.5 867.7,416.6 870.2,422.9 C872.7,429.2 875.5,436.5 877.8,440.5 C880.1,444.5 881.5,446.4 884,446.8 C886.5,447.2 890.1,444.7 892.8,443 C895.5,441.3 897.5,438.8 900,436.7 C902.5,434.6 904.3,433.4 907.7,430.2 C911.1,427 915.7,421.5 920.3,417.6 C924.9,413.7 931.3,408.7 935.3,407 C939.3,405.3 941.8,406.9 944.1,407.6 C946.4,408.3 947.1,408.3 949.2,411.4 C951.3,414.5 954,418 956.7,426.4 C959.4,434.8 962.7,450.4 965.5,461.6 C968.3,472.9 970.9,482.2 973.5,493.9 C976.1,505.6 977.9,521.2 981,531.6 C984.1,542 988.2,552.7 992.3,556.1 C996.4,559.5 1001.1,554.5 1005.5,552.3 C1009.9,550.1 1014.9,546.3 1018.7,542.9 C1022.5,539.5 1025.1,536.9 1028.2,531.6 C1031.3,526.3 1033.5,521.6 1037.6,510.9 C1041.6,500.2 1050,474.7 1052.5,467.5" fill="none" stroke="#f5e51c" stroke-width="1.8" stroke-linejoin="round" stroke-linecap="round"/><path d="M764.4,368.3 C768.7,370.2 782.1,379 790.2,379.6 C798.3,380.2 806.7,373.3 812.8,372 C818.9,370.7 821.6,371.2 826.6,372 C831.6,372.8 838.5,374.8 842.6,377 C846.7,379.2 848.7,381.3 851.4,385.2 C854.1,389.1 856.2,394.4 858.9,400.3 C861.6,406.2 864.8,413.7 867.7,420.4 C870.6,427.1 874,435.9 876.5,440.5 C879,445.1 880.5,446.9 882.8,448 C885.1,449.1 886.3,449.3 890.3,446.8 C894.3,444.3 902,437.5 907,433 C912,428.5 916,423.8 920.3,420 C924.6,416.2 929.2,412.3 933,410 C936.8,407.7 940.2,406.3 942.9,406.3 C945.6,406.3 946.8,406.7 949,410 C951.2,413.3 953.4,417.3 956,426 C958.6,434.7 961.8,450.3 964.5,462 C967.2,473.7 969.9,484.4 972.5,496 C975.1,507.6 977.1,522.4 980,531.6 C982.9,540.8 986.5,548.1 990,551 C993.5,553.9 997.2,550.7 1001,549 C1004.8,547.3 1009,544 1013,541 C1017,538 1021.3,535.5 1025,531 C1028.7,526.5 1030.4,523.7 1035,514 C1039.6,504.3 1049.6,479.8 1052.5,473" fill="none" stroke="#b4d234" stroke-width="1.8" stroke-linejoin="round" stroke-linecap="round"/><path d="M764.4,372.9 L766.4,373.8 L768.4,374.7 L770.4,375.7 L772.4,376.7 L774.4,377.6 L776.4,378.5 L778.4,379.4 L780.4,380.3 L782.4,381.1 L784.4,381.9 L786.4,382.5 L788.4,383 L790.4,383.4 L792.4,383.4 L794.4,383.3 L796.4,383 L798.4,382.4 L800.4,381.8 L802.4,381.1 L804.4,380.3 L806.4,379.5 L808.4,378.7 L810.4,378 L812.4,377.5 L814.4,377.1 L816.4,376.8 L818.4,376.7 L820.4,376.7 L822.4,376.9 L824.4,377.1 L826.4,377.5 L828.4,377.9 L830.4,378.3 L832.4,378.8 L834.4,379.3 L836.4,379.9 L838.4,380.7 L840.4,381.5 L842.4,382.6 L844.4,383.8 L846.4,385.4 L848.4,387.4 L850.4,389.9 L852.4,393 L854.4,396.6 L856.4,400.8 L858.4,405.1 L860.4,409.5 L862.4,414.1 L864.4,418.8 L866.4,423.4 L868.4,427.9 L870.4,432.5 L872.4,437 L874.4,441.1 L876.4,444.6 L878.4,447.4 L880.4,449.3 L882.4,450.4 L884.4,450.8 L886.4,450.7 L888.4,449.9 L890.4,448.8 L892.4,447.4 L894.4,445.9 L896.4,444.2 L898.4,442.3 L900.4,440.5 L902.4,438.6 L904.4,436.8 L906.4,435 L908.4,433.3 L910.4,431.5 L912.4,429.7 L914.4,427.8 L916.4,426 L918.4,424.2 L920.4,422.5 L922.4,420.8 L924.4,419 L926.4,417.4 L928.4,415.7 L930.4,414.2 L932.4,412.9 L934.4,411.7 L936.4,410.6 L938.4,409.8 L940.4,409.3 L942.4,409 L944.4,409.2 L946.4,410.1 L948.4,412.1 L950.4,415 L952.4,418.5 L954.4,423.2 L956.4,429.5 L958.4,437.4 L960.4,446.2 L962.4,455.3 L964.4,463.9 L966.4,472.2 L968.4,480.4 L970.4,488.8 L972.4,497.4 L974.4,507.2 L976.4,517.6 L978.4,526.7 L980.4,533.6 L982.4,538.9 L984.4,543.2 L986.4,546.5 L988.4,548.9 L990.4,550.3 L992.4,550.7 L994.4,550.3 L996.4,549.4 L998.4,548.4 L1000.4,547.4 L1002.4,546.3 L1004.4,545 L1006.4,543.7 L1008.4,542.3 L1010.4,540.9 L1012.4,539.5 L1014.4,538.2 L1016.4,536.9 L1018.4,535.6 L1020.4,534.1 L1022.4,532.5 L1024.4,530.4 L1026.4,528.1 L1028.4,525.4 L1030.4,522.2 L1032.4,518.8 L1034.4,515.1 L1036.4,511.3 L1038.4,507.3 L1040.4,503.2 L1042.4,499 L1044.4,494.7 L1046.4,490.3 L1048.4,485.9 L1050.4,481.5 L1052.4,477 L1052.5,476.8" fill="none" stroke="#72c056" stroke-width="1.8" stroke-linejoin="round" stroke-linecap="round"/><path d="M764.4,375.5 L766.4,376.3 L768.4,377.2 L770.4,378.2 L772.4,379 L774.4,379.9 L776.4,380.7 L778.4,381.6 L780.4,382.5 L782.4,383.3 L784.4,384 L786.4,384.7 L788.4,385.2 L790.4,385.5 L792.4,385.7 L794.4,385.6 L796.4,385.4 L798.4,384.9 L800.4,384.4 L802.4,383.8 L804.4,383.1 L806.4,382.4 L808.4,381.7 L810.4,381.1 L812.4,380.6 L814.4,380.2 L816.4,379.9 L818.4,379.8 L820.4,379.9 L822.4,380 L824.4,380.3 L826.4,380.7 L828.4,381.1 L830.4,381.5 L832.4,382 L834.4,382.5 L836.4,383.1 L838.4,383.8 L840.4,384.8 L842.4,385.9 L844.4,387.2 L846.4,388.8 L848.4,390.9 L850.4,393.5 L852.4,396.5 L854.4,400.2 L856.4,404.2 L858.4,408.5 L860.4,412.9 L862.4,417.6 L864.4,422.2 L866.4,426.8 L868.4,431.3 L870.4,435.8 L872.4,440.1 L874.4,443.9 L876.4,447.1 L878.4,449.5 L880.4,451.1 L882.4,451.8 L884.4,452.1 L886.4,451.8 L888.4,451 L890.4,449.9 L892.4,448.6 L894.4,447.1 L896.4,445.3 L898.4,443.4 L900.4,441.4 L902.4,439.5 L904.4,437.6 L906.4,435.9 L908.4,434.2 L910.4,432.5 L912.4,430.7 L914.4,429 L916.4,427.3 L918.4,425.6 L920.4,423.9 L922.4,422.2 L924.4,420.5 L926.4,418.9 L928.4,417.2 L930.4,415.7 L932.4,414.3 L934.4,413.1 L936.4,412.1 L938.4,411.3 L940.4,410.8 L942.4,410.6 L944.4,410.8 L946.4,411.8 L948.4,413.8 L950.4,416.5 L952.4,419.9 L954.4,424.4 L956.4,430.6 L958.4,438.6 L960.4,447.6 L962.4,456.7 L964.4,465.2 L966.4,473.5 L968.4,481.6 L970.4,489.9 L972.4,498.5 L974.4,508.2 L976.4,518.4 L978.4,527.3 L980.4,534 L982.4,539.3 L984.4,543.4 L986.4,546.5 L988.4,548.6 L990.4,549.7 L992.4,549.8 L994.4,549.3 L996.4,548.3 L998.4,547.3 L1000.4,546.3 L1002.4,545.1 L1004.4,543.8 L1006.4,542.4 L1008.4,541 L1010.4,539.7 L1012.4,538.4 L1014.4,537.2 L1016.4,535.9 L1018.4,534.7 L1020.4,533.3 L1022.4,531.7 L1024.4,529.7 L1026.4,527.4 L1028.4,524.8 L1030.4,521.7 L1032.4,518.5 L1034.4,515.1 L1036.4,511.5 L1038.4,507.8 L1040.4,504 L1042.4,500.1 L1044.4,496.1 L1046.4,491.9 L1048.4,487.7 L1050.4,483.4 L1052.4,479.2 L1052.5,479" fill="none" stroke="#38b477" stroke-width="1.8" stroke-linejoin="round" stroke-linecap="round"/><path d="M764.4,377.7 L766.4,378.5 L768.4,379.4 L770.4,380.2 L772.4,381 L774.4,381.8 L776.4,382.6 L778.4,383.4 L780.4,384.3 L782.4,385.1 L784.4,385.8 L786.4,386.5 L788.4,387 L790.4,387.4 L792.4,387.6 L794.4,387.6 L796.4,387.4 L798.4,387 L800.4,386.6 L802.4,386 L804.4,385.4 L806.4,384.8 L808.4,384.2 L810.4,383.6 L812.4,383.2 L814.4,382.8 L816.4,382.6 L818.4,382.5 L820.4,382.5 L822.4,382.7 L824.4,383 L826.4,383.3 L828.4,383.8 L830.4,384.2 L832.4,384.7 L834.4,385.2 L836.4,385.7 L838.4,386.5 L840.4,387.5 L842.4,388.6 L844.4,390 L846.4,391.7 L848.4,393.8 L850.4,396.5 L852.4,399.6 L854.4,403.2 L856.4,407.2 L858.4,411.4 L860.4,415.8 L862.4,420.5 L864.4,425.2 L866.4,429.7 L868.4,434.2 L870.4,438.6 L872.4,442.8 L874.4,446.3 L876.4,449.1 L878.4,451.2 L880.4,452.5 L882.4,453.1 L884.4,453.2 L886.4,452.8 L888.4,452 L890.4,450.9 L892.4,449.6 L894.4,448.1 L896.4,446.2 L898.4,444.2 L900.4,442.2 L902.4,440.2 L904.4,438.3 L906.4,436.6 L908.4,434.9 L910.4,433.3 L912.4,431.6 L914.4,430 L916.4,428.4 L918.4,426.8 L920.4,425.2 L922.4,423.5 L924.4,421.8 L926.4,420.1 L928.4,418.4 L930.4,416.9 L932.4,415.5 L934.4,414.3 L936.4,413.3 L938.4,412.5 L940.4,412 L942.4,411.9 L944.4,412.2 L946.4,413.2 L948.4,415.3 L950.4,417.8 L952.4,421.1 L954.4,425.4 L956.4,431.6 L958.4,439.7 L960.4,448.8 L962.4,457.9 L964.4,466.4 L966.4,474.5 L968.4,482.6 L970.4,490.8 L972.4,499.4 L974.4,509.1 L976.4,519.1 L978.4,527.8 L980.4,534.4 L982.4,539.6 L984.4,543.6 L986.4,546.6 L988.4,548.4 L990.4,549.2 L992.4,549.1 L994.4,548.4 L996.4,547.4 L998.4,546.4 L1000.4,545.3 L1002.4,544.1 L1004.4,542.8 L1006.4,541.4 L1008.4,540 L1010.4,538.7 L1012.4,537.5 L1014.4,536.3 L1016.4,535.1 L1018.4,533.9 L1020.4,532.6 L1022.4,531.1 L1024.4,529.1 L1026.4,526.9 L1028.4,524.2 L1030.4,521.3 L1032.4,518.2 L1034.4,515 L1036.4,511.7 L1038.4,508.2 L1040.4,504.6 L1042.4,501 L1044.4,497.2 L1046.4,493.3 L1048.4,489.2 L1050.4,485.1 L1052.4,481 L1052.5,480.8" fill="none" stroke="#229c87" stroke-width="1.8" stroke-linejoin="round" stroke-linecap="round"/><path d="M764.4,379.3 L766.4,380.1 L768.4,380.9 L770.4,381.7 L772.4,382.5 L774.4,383.3 L776.4,384 L778.4,384.8 L780.4,385.6 L782.4,386.4 L784.4,387.1 L786.4,387.8 L788.4,388.3 L790.4,388.8 L792.4,389 L794.4,389 L796.4,388.9 L798.4,388.6 L800.4,388.2 L802.4,387.7 L804.4,387.2 L806.4,386.6 L808.4,386.1 L810.4,385.6 L812.4,385.1 L814.4,384.8 L816.4,384.5 L818.4,384.5 L820.4,384.5 L822.4,384.7 L824.4,385 L826.4,385.4 L828.4,385.8 L830.4,386.2 L832.4,386.7 L834.4,387.1 L836.4,387.7 L838.4,388.5 L840.4,389.5 L842.4,390.7 L844.4,392.1 L846.4,393.8 L848.4,396 L850.4,398.7 L852.4,401.8 L854.4,405.4 L856.4,409.4 L858.4,413.5 L860.4,417.9 L862.4,422.6 L864.4,427.3 L866.4,431.9 L868.4,436.3 L870.4,440.7 L872.4,444.7 L874.4,448 L876.4,450.7 L878.4,452.6 L880.4,453.6 L882.4,454 L884.4,454 L886.4,453.5 L888.4,452.7 L890.4,451.7 L892.4,450.4 L894.4,448.8 L896.4,446.9 L898.4,444.9 L900.4,442.8 L902.4,440.8 L904.4,438.8 L906.4,437.1 L908.4,435.5 L910.4,433.9 L912.4,432.3 L914.4,430.8 L916.4,429.2 L918.4,427.7 L920.4,426.1 L922.4,424.4 L924.4,422.7 L926.4,421 L928.4,419.4 L930.4,417.8 L932.4,416.4 L934.4,415.2 L936.4,414.2 L938.4,413.4 L940.4,413 L942.4,412.9 L944.4,413.2 L946.4,414.3 L948.4,416.4 L950.4,418.8 L952.4,421.9 L954.4,426.2 L956.4,432.3 L958.4,440.5 L960.4,449.7 L962.4,458.8 L964.4,467.2 L966.4,475.3 L968.4,483.4 L970.4,491.5 L972.4,500.1 L974.4,509.8 L976.4,519.6 L978.4,528.2 L980.4,534.7 L982.4,539.8 L984.4,543.7 L986.4,546.6 L988.4,548.3 L990.4,548.9 L992.4,548.6 L994.4,547.8 L996.4,546.8 L998.4,545.7 L1000.4,544.6 L1002.4,543.4 L1004.4,542 L1006.4,540.6 L1008.4,539.2 L1010.4,537.9 L1012.4,536.8 L1014.4,535.6 L1016.4,534.5 L1018.4,533.4 L1020.4,532.1 L1022.4,530.6 L1024.4,528.7 L1026.4,526.5 L1028.4,523.9 L1030.4,521 L1032.4,518 L1034.4,515 L1036.4,511.8 L1038.4,508.5 L1040.4,505.1 L1042.4,501.7 L1044.4,498.1 L1046.4,494.3 L1048.4,490.3 L1050.4,486.4 L1052.4,482.4 L1052.5,482.2" fill="none" stroke="#22878d" stroke-width="1.8" stroke-linejoin="round" stroke-linecap="round"/><path d="M764.4,380.7 L766.4,381.5 L768.4,382.3 L770.4,383 L772.4,383.8 L774.4,384.5 L776.4,385.2 L778.4,386 L780.4,386.8 L782.4,387.5 L784.4,388.3 L786.4,388.9 L788.4,389.5 L790.4,389.9 L792.4,390.2 L794.4,390.3 L796.4,390.2 L798.4,389.9 L800.4,389.6 L802.4,389.2 L804.4,388.7 L806.4,388.2 L808.4,387.7 L810.4,387.2 L812.4,386.7 L814.4,386.4 L816.4,386.2 L818.4,386.1 L820.4,386.2 L822.4,386.3 L824.4,386.6 L826.4,387 L828.4,387.5 L830.4,387.9 L832.4,388.3 L834.4,388.8 L836.4,389.4 L838.4,390.2 L840.4,391.2 L842.4,392.4 L844.4,393.9 L846.4,395.6 L848.4,397.9 L850.4,400.5 L852.4,403.7 L854.4,407.3 L856.4,411.2 L858.4,415.3 L860.4,419.7 L862.4,424.4 L864.4,429.2 L866.4,433.7 L868.4,438.1 L870.4,442.4 L872.4,446.4 L874.4,449.5 L876.4,452 L878.4,453.7 L880.4,454.6 L882.4,454.8 L884.4,454.7 L886.4,454.1 L888.4,453.3 L890.4,452.3 L892.4,451 L894.4,449.4 L896.4,447.5 L898.4,445.4 L900.4,443.3 L902.4,441.2 L904.4,439.3 L906.4,437.6 L908.4,435.9 L910.4,434.4 L912.4,432.9 L914.4,431.4 L916.4,429.9 L918.4,428.4 L920.4,426.8 L922.4,425.2 L924.4,423.5 L926.4,421.8 L928.4,420.1 L930.4,418.5 L932.4,417.1 L934.4,415.9 L936.4,414.9 L938.4,414.2 L940.4,413.8 L942.4,413.7 L944.4,414.1 L946.4,415.2 L948.4,417.3 L950.4,419.7 L952.4,422.7 L954.4,426.8 L956.4,432.9 L958.4,441.2 L960.4,450.4 L962.4,459.5 L964.4,467.9 L966.4,476 L968.4,484 L970.4,492.1 L972.4,500.7 L974.4,510.3 L976.4,520.1 L978.4,528.5 L980.4,534.9 L982.4,540 L984.4,543.8 L986.4,546.6 L988.4,548.1 L990.4,548.6 L992.4,548.2 L994.4,547.3 L996.4,546.2 L998.4,545.2 L1000.4,544 L1002.4,542.7 L1004.4,541.3 L1006.4,539.9 L1008.4,538.5 L1010.4,537.3 L1012.4,536.2 L1014.4,535.1 L1016.4,534 L1018.4,532.9 L1020.4,531.7 L1022.4,530.2 L1024.4,528.3 L1026.4,526.1 L1028.4,523.5 L1030.4,520.7 L1032.4,517.9 L1034.4,514.9 L1036.4,511.9 L1038.4,508.8 L1040.4,505.6 L1042.4,502.2 L1044.4,498.8 L1046.4,495.1 L1048.4,491.3 L1050.4,487.4 L1052.4,483.5 L1052.5,483.4" fill="none" stroke="#2c6e8e" stroke-width="1.8" stroke-linejoin="round" stroke-linecap="round"/><path d="M764.4,382.1 C766.2,382.7 770.2,384.3 775.1,385.9 C780,387.5 787,391.2 793.9,391.5 C800.8,391.8 810.4,388.1 816.5,387.8 C822.6,387.5 826.5,388.8 830.4,389.6 C834.3,390.4 837,390.9 840.1,392.7 C843.2,394.5 846,396.5 848.9,400.3 C851.8,404.1 854.7,409.5 857.6,415.4 C860.5,421.3 863.7,429.6 866.4,435.5 C869.1,441.4 871.5,447.1 874,450.5 C876.5,453.9 878.4,455.4 881.5,455.6 C884.6,455.8 888.6,454.3 892.6,451.5 C896.6,448.7 900.6,443 905.2,439 C909.8,435 915.7,431.3 920.3,427.7 C924.9,424.1 929.2,419.8 932.8,417.6 C936.3,415.4 939.1,414.5 941.6,414.5 C944.1,414.5 945.6,415 947.9,417.6 C950.2,420.2 952.9,422.6 955.4,430.2 C957.9,437.8 960.3,451.6 963,462.9 C965.7,474.1 968.9,486.2 971.6,497.7 C974.3,509.1 976.5,523.3 979.2,531.6 C981.9,539.9 984.5,545.4 987.6,547.6 C990.7,549.8 994.4,546.5 998,544.8 C1001.6,543.1 1005.2,539.8 1009.3,537.3 C1013.4,534.8 1018.7,532.9 1022.5,529.7 C1026.3,526.6 1028.5,523.1 1031.9,518.4 C1035.4,513.7 1039.8,507.1 1043.2,501.5 C1046.6,495.9 1051,487.3 1052.5,484.5" fill="none" stroke="#3a4a8c" stroke-width="1.8" stroke-linejoin="round" stroke-linecap="round"/><line x1="905.8" y1="451.6" x2="886.2" y2="465.3" stroke="#333" stroke-width="1.6" stroke-dasharray="4 3"/><path d="M878.8,470.4 L884.9,461.7 L889.1,467.6 Z" fill="#333"/><line x1="991.4" y1="567" x2="977.3" y2="558.1" stroke="#333" stroke-width="1.6" stroke-dasharray="4 3"/><path d="M969.7,553.3 L980.1,555.6 L976.2,561.7 Z" fill="#333"/><rect x="773.5" y="399.2" width="16.5" height="22.2" fill="#f5e51c"/><line x1="790" y1="410.1" x2="793.5" y2="410.1" stroke="#222" stroke-width="1"/><text x="797.2" y="413.5" font-size="9.3" text-anchor="start" fill="#1a1a1a" >25°C</text><rect x="773.5" y="421.1" width="16.5" height="22.2" fill="#b4d234"/><line x1="790" y1="432" x2="793.5" y2="432" stroke="#222" stroke-width="1"/><text x="797.2" y="435.4" font-size="9.3" text-anchor="start" fill="#1a1a1a" >50°C</text><rect x="773.5" y="443" width="16.5" height="22.2" fill="#72c056"/><line x1="790" y1="453.9" x2="793.5" y2="453.9" stroke="#222" stroke-width="1"/><text x="797.2" y="457.3" font-size="9.3" text-anchor="start" fill="#1a1a1a" >75°C</text><rect x="773.5" y="464.9" width="16.5" height="22.2" fill="#38b477"/><line x1="790" y1="475.8" x2="793.5" y2="475.8" stroke="#222" stroke-width="1"/><text x="797.2" y="479.2" font-size="9.3" text-anchor="start" fill="#1a1a1a" >100°C</text><rect x="773.5" y="486.8" width="16.5" height="22.2" fill="#229c87"/><line x1="790" y1="497.8" x2="793.5" y2="497.8" stroke="#222" stroke-width="1"/><text x="797.2" y="501.1" font-size="9.3" text-anchor="start" fill="#1a1a1a" >125°C</text><rect x="773.5" y="508.7" width="16.5" height="22.2" fill="#22878d"/><line x1="790" y1="519.6" x2="793.5" y2="519.6" stroke="#222" stroke-width="1"/><text x="797.2" y="523" font-size="9.3" text-anchor="start" fill="#1a1a1a" >150°C</text><rect x="773.5" y="530.6" width="16.5" height="22.2" fill="#2c6e8e"/><line x1="790" y1="541.5" x2="793.5" y2="541.5" stroke="#222" stroke-width="1"/><text x="797.2" y="544.9" font-size="9.3" text-anchor="start" fill="#1a1a1a" >175°C</text><rect x="773.5" y="552.5" width="16.5" height="22.2" fill="#3a4a8c"/><line x1="790" y1="563.5" x2="793.5" y2="563.5" stroke="#222" stroke-width="1"/><text x="797.2" y="566.9" font-size="9.3" text-anchor="start" fill="#1a1a1a" >200°C</text><rect x="773.5" y="399.2" width="16.5" height="175.2" fill="none" stroke="#111" stroke-width="1.2"/>
<rect x="52.4" y="670.2" width="290.4" height="234.1" fill="none" stroke="#1a1a1a" stroke-width="1.9"/><line x1="52.4" y1="887.5" x2="47.9" y2="887.5" stroke="#1a1a1a" stroke-width="1.3"/><line x1="52.4" y1="854.1" x2="47.9" y2="854.1" stroke="#1a1a1a" stroke-width="1.3"/><line x1="52.4" y1="820.7" x2="47.9" y2="820.7" stroke="#1a1a1a" stroke-width="1.3"/><line x1="52.4" y1="787.3" x2="47.9" y2="787.3" stroke="#1a1a1a" stroke-width="1.3"/><line x1="52.4" y1="753.9" x2="47.9" y2="753.9" stroke="#1a1a1a" stroke-width="1.3"/><line x1="52.4" y1="720.5" x2="47.9" y2="720.5" stroke="#1a1a1a" stroke-width="1.3"/><line x1="52.4" y1="687.1" x2="47.9" y2="687.1" stroke="#1a1a1a" stroke-width="1.3"/><line x1="52.4" y1="904.2" x2="49.6" y2="904.2" stroke="#1a1a1a" stroke-width="1.3"/><line x1="52.4" y1="870.8" x2="49.6" y2="870.8" stroke="#1a1a1a" stroke-width="1.3"/><line x1="52.4" y1="837.4" x2="49.6" y2="837.4" stroke="#1a1a1a" stroke-width="1.3"/><line x1="52.4" y1="804" x2="49.6" y2="804" stroke="#1a1a1a" stroke-width="1.3"/><line x1="52.4" y1="770.6" x2="49.6" y2="770.6" stroke="#1a1a1a" stroke-width="1.3"/><line x1="52.4" y1="737.2" x2="49.6" y2="737.2" stroke="#1a1a1a" stroke-width="1.3"/><line x1="52.4" y1="703.8" x2="49.6" y2="703.8" stroke="#1a1a1a" stroke-width="1.3"/><text x="45.5" y="892.8" font-size="16" text-anchor="end" fill="#1a1a1a" >0.0</text><text x="45.5" y="859.4" font-size="16" text-anchor="end" fill="#1a1a1a" >0.2</text><text x="45.5" y="826" font-size="16" text-anchor="end" fill="#1a1a1a" >0.4</text><text x="45.5" y="792.6" font-size="16" text-anchor="end" fill="#1a1a1a" >0.6</text><text x="45.5" y="759.2" font-size="16" text-anchor="end" fill="#1a1a1a" >0.8</text><text x="45.5" y="725.8" font-size="16" text-anchor="end" fill="#1a1a1a" >1.0</text><text x="45.5" y="692.4" font-size="16" text-anchor="end" fill="#1a1a1a" >1.2</text><line x1="69.7" y1="904.3" x2="69.7" y2="908.8" stroke="#1a1a1a" stroke-width="1.3"/><line x1="101.8" y1="904.3" x2="101.8" y2="908.8" stroke="#1a1a1a" stroke-width="1.3"/><line x1="133.9" y1="904.3" x2="133.9" y2="908.8" stroke="#1a1a1a" stroke-width="1.3"/><line x1="165.9" y1="904.3" x2="165.9" y2="908.8" stroke="#1a1a1a" stroke-width="1.3"/><line x1="198" y1="904.3" x2="198" y2="908.8" stroke="#1a1a1a" stroke-width="1.3"/><line x1="230.1" y1="904.3" x2="230.1" y2="908.8" stroke="#1a1a1a" stroke-width="1.3"/><line x1="262.2" y1="904.3" x2="262.2" y2="908.8" stroke="#1a1a1a" stroke-width="1.3"/><line x1="294.3" y1="904.3" x2="294.3" y2="908.8" stroke="#1a1a1a" stroke-width="1.3"/><line x1="326.3" y1="904.3" x2="326.3" y2="908.8" stroke="#1a1a1a" stroke-width="1.3"/><line x1="85.7" y1="904.3" x2="85.7" y2="907.1" stroke="#1a1a1a" stroke-width="1.3"/><line x1="117.8" y1="904.3" x2="117.8" y2="907.1" stroke="#1a1a1a" stroke-width="1.3"/><line x1="149.9" y1="904.3" x2="149.9" y2="907.1" stroke="#1a1a1a" stroke-width="1.3"/><line x1="182" y1="904.3" x2="182" y2="907.1" stroke="#1a1a1a" stroke-width="1.3"/><line x1="214.1" y1="904.3" x2="214.1" y2="907.1" stroke="#1a1a1a" stroke-width="1.3"/><line x1="246.1" y1="904.3" x2="246.1" y2="907.1" stroke="#1a1a1a" stroke-width="1.3"/><line x1="278.2" y1="904.3" x2="278.2" y2="907.1" stroke="#1a1a1a" stroke-width="1.3"/><line x1="310.3" y1="904.3" x2="310.3" y2="907.1" stroke="#1a1a1a" stroke-width="1.3"/><line x1="342.4" y1="904.3" x2="342.4" y2="907.1" stroke="#1a1a1a" stroke-width="1.3"/><text x="69.7" y="925.8" font-size="16" text-anchor="middle" fill="#1a1a1a" >-100</text><text x="101.8" y="925.8" font-size="16" text-anchor="middle" fill="#1a1a1a" >-80</text><text x="133.9" y="925.8" font-size="16" text-anchor="middle" fill="#1a1a1a" >-60</text><text x="165.9" y="925.8" font-size="16" text-anchor="middle" fill="#1a1a1a" >-40</text><text x="198" y="925.8" font-size="16" text-anchor="middle" fill="#1a1a1a" >-20</text><text x="230.1" y="925.8" font-size="16" text-anchor="middle" fill="#1a1a1a" >0</text><text x="262.2" y="925.8" font-size="16" text-anchor="middle" fill="#1a1a1a" >20</text><text x="294.3" y="925.8" font-size="16" text-anchor="middle" fill="#1a1a1a" >40</text><text x="326.3" y="925.8" font-size="16" text-anchor="middle" fill="#1a1a1a" >60</text><text x="122.5" y="943.3" font-size="20" text-anchor="start" fill="#1a1a1a" textLength="152.5" lengthAdjust="spacingAndGlyphs" >Temperature (°C)</text><text x="15.2" y="787.2" font-size="20" text-anchor="middle" fill="#1a1a1a" transform="rotate(-90 15.2 787.2)" >Tan Delta</text><text x="35.5" y="652.2" font-size="23" text-anchor="start" fill="#000" font-weight="bold" >e</text><path d="M69.7,849.4 C71.6,850.2 77.5,853.1 81,854.2 C84.5,855.3 87,856.3 90.5,856 C94,855.7 97.7,853.9 101.8,852.3 C105.9,850.7 110.6,847.1 115,846.6 C119.4,846.1 124.1,848.1 128.2,849.4 C132.3,850.7 135.1,852.6 139.5,854.2 C143.9,855.8 147.5,858 154.5,858.9 C161.5,859.8 171.7,861.2 181.4,859.7 C191.1,858.2 204.1,851.7 212.8,849.6 C221.5,847.5 227.5,849.5 233.8,847.1 C240.1,844.7 244.6,840.5 250.5,835 C256.4,829.5 263.5,822.7 269.4,814 C275.3,805.3 280.2,791.5 286.1,782.6 C292,773.7 299.7,762.7 304.6,760.6 C309.5,758.5 312.6,764.9 315.4,770.1 C318.2,775.3 320.3,788.4 321.3,792" fill="none" stroke="#f2b42a" stroke-width="1.8" stroke-linejoin="round" stroke-linecap="round"/><path d="M69.7,851.3 C71,852.6 74.2,857.2 77.3,858.9 C80.4,860.6 84.8,861.9 88.6,861.7 C92.4,861.5 95.5,860.7 99.9,857.9 C104.3,855.1 110.3,848.8 115,844.7 C119.7,840.6 124,835.9 128.2,833.4 C132.4,830.9 136,829.4 140.4,829.7 C144.8,830 149.4,832.7 154.5,835.3 C159.6,837.9 163.6,843 170.9,845.4 C178.2,847.8 190.2,850.6 198.2,849.6 C206.2,848.6 212.1,844.8 219.1,839.2 C226.1,833.6 233.5,823.4 240.1,816.1 C246.7,808.8 252.1,801.2 258.9,795.2 C265.7,789.2 274.6,780.8 280.9,780.1 C287.2,779.4 290.2,783.6 296.6,791 C303,798.4 315.4,818.9 319.2,824.5" fill="none" stroke="#e0676a" stroke-width="1.8" stroke-linejoin="round" stroke-linecap="round"/><path d="M69.7,875.8 C73.8,876.1 87,877.9 94.2,877.7 C101.4,877.6 108.4,876.6 113.1,874.9 C117.8,873.2 119.4,871.4 122.5,867.3 C125.6,863.2 128.8,857.3 131.9,850.4 C135,843.5 138.5,832.2 141.3,825.9 C144.1,819.6 146.1,815.7 148.9,812.7 C151.8,809.8 154.7,808.2 158.4,808.2 C162.1,808.2 167.1,811.5 170.9,813 C174.7,814.5 177.9,817.7 181.4,817.2 C184.9,816.7 188.1,815.6 191.9,809.8 C195.8,804 200.7,790.3 204.5,782.6 C208.3,774.9 211.1,768 214.9,763.8 C218.7,759.5 223.3,757.1 227.5,757.1 C231.7,757.1 236.3,759.9 240.1,763.8 C243.9,767.7 246,772.8 250.5,780.5 C255,788.2 261.7,800.4 267.3,809.8 C272.9,819.2 278.4,828.4 284,837.1 C289.6,845.8 294.5,854.1 300.8,862.2 C307.1,870.3 318.2,881.9 321.7,885.8" fill="none" stroke="#3a9dba" stroke-width="1.8" stroke-linejoin="round" stroke-linecap="round"/><path d="M69.7,874.9 C72.2,875.2 79.1,876.5 84.8,876.8 C90.5,877.1 96.5,877.3 103.7,876.8 C110.9,876.3 122.2,875.3 128.2,874 C134.2,872.7 136.1,871.9 139.5,869.2 C142.9,866.5 146.1,862.9 148.9,857.9 C151.7,852.9 153.9,846 156.4,839.1 C158.9,832.2 161.5,822.8 164,816.5 C166.5,810.2 168.6,804.4 171.5,801.4 C174.4,798.4 178.3,799.2 181.4,798.3 C184.5,797.4 186.7,799.9 189.8,796.2 C193,792.5 196.8,786.9 200.3,776.3 C203.8,765.7 207.9,743.4 210.7,732.4 C213.5,721.4 214.8,715.2 217,710 C219.2,704.8 221.2,701.5 223.7,701.4 C226.1,701.3 229,703.4 231.7,709.3 C234.4,715.1 237,725.3 240.1,736.5 C243.2,747.7 246.7,763.4 250.5,776.3 C254.3,789.2 258.9,802.8 263.1,814 C267.3,825.2 270.8,835 275.7,843.4 C280.6,851.8 286.8,859.1 292.4,864.3 C298,869.5 304.3,871.9 309.2,874.8 C314.1,877.7 319.6,880.6 321.7,881.7" fill="none" stroke="#4a72bf" stroke-width="1.8" stroke-linejoin="round" stroke-linecap="round"/><line x1="235.9" y1="702.6" x2="299.4" y2="743.8" stroke="#333" stroke-width="1.6" stroke-dasharray="4 3"/><path d="M307,748.7 L296.7,746.3 L300.6,740.2 Z" fill="#333"/><line x1="164" y1="789.1" x2="114.9" y2="821.8" stroke="#333" stroke-width="1.6" stroke-dasharray="4 3"/><path d="M107.4,826.8 L113.7,818.3 L117.7,824.3 Z" fill="#333"/><line x1="65" y1="687.1" x2="97" y2="687.1" stroke="#4a72bf" stroke-width="1.8"/><text x="100.8" y="691.9" font-size="13.8" text-anchor="start" fill="#1a1a1a" textLength="66" lengthAdjust="spacingAndGlyphs" >0% LiTFSI</text><line x1="65" y1="705" x2="97" y2="705" stroke="#3a9dba" stroke-width="1.8"/><text x="100.8" y="709.8" font-size="13.8" text-anchor="start" fill="#1a1a1a" textLength="66" lengthAdjust="spacingAndGlyphs" >5% LiTFSI</text><line x1="65" y1="722.4" x2="97" y2="722.4" stroke="#e0676a" stroke-width="1.8"/><text x="100.8" y="727.2" font-size="13.8" text-anchor="start" fill="#1a1a1a" textLength="73.5" lengthAdjust="spacingAndGlyphs" >10% LiTFSI</text><line x1="65" y1="739.9" x2="97" y2="739.9" stroke="#f2b42a" stroke-width="1.8"/><text x="100.8" y="744.7" font-size="13.8" text-anchor="start" fill="#1a1a1a" textLength="73.5" lengthAdjust="spacingAndGlyphs" >15% LiTFSI</text>
<rect x="410" y="672" width="289.6" height="233" fill="none" stroke="#1a1a1a" stroke-width="1.9"/><line x1="410" y1="891.3" x2="405" y2="891.3" stroke="#1a1a1a" stroke-width="1.3"/><line x1="410" y1="863.9" x2="405" y2="863.9" stroke="#1a1a1a" stroke-width="1.3"/><line x1="410" y1="836.5" x2="405" y2="836.5" stroke="#1a1a1a" stroke-width="1.3"/><line x1="410" y1="809.1" x2="405" y2="809.1" stroke="#1a1a1a" stroke-width="1.3"/><line x1="410" y1="781.7" x2="405" y2="781.7" stroke="#1a1a1a" stroke-width="1.3"/><line x1="410" y1="754.3" x2="405" y2="754.3" stroke="#1a1a1a" stroke-width="1.3"/><line x1="410" y1="726.9" x2="405" y2="726.9" stroke="#1a1a1a" stroke-width="1.3"/><line x1="410" y1="699.5" x2="405" y2="699.5" stroke="#1a1a1a" stroke-width="1.3"/><line x1="410" y1="672.1" x2="405" y2="672.1" stroke="#1a1a1a" stroke-width="1.3"/><line x1="410" y1="905" x2="407" y2="905" stroke="#1a1a1a" stroke-width="1.3"/><line x1="410" y1="877.6" x2="407" y2="877.6" stroke="#1a1a1a" stroke-width="1.3"/><line x1="410" y1="850.2" x2="407" y2="850.2" stroke="#1a1a1a" stroke-width="1.3"/><line x1="410" y1="822.8" x2="407" y2="822.8" stroke="#1a1a1a" stroke-width="1.3"/><line x1="410" y1="795.4" x2="407" y2="795.4" stroke="#1a1a1a" stroke-width="1.3"/><line x1="410" y1="768" x2="407" y2="768" stroke="#1a1a1a" stroke-width="1.3"/><line x1="410" y1="740.6" x2="407" y2="740.6" stroke="#1a1a1a" stroke-width="1.3"/><line x1="410" y1="713.2" x2="407" y2="713.2" stroke="#1a1a1a" stroke-width="1.3"/><line x1="410" y1="685.8" x2="407" y2="685.8" stroke="#1a1a1a" stroke-width="1.3"/><text x="401.5" y="896" font-size="16" text-anchor="end" fill="#1a1a1a" >-80</text><text x="401.5" y="868.6" font-size="16" text-anchor="end" fill="#1a1a1a" >-60</text><text x="401.5" y="841.2" font-size="16" text-anchor="end" fill="#1a1a1a" >-40</text><text x="401.5" y="813.8" font-size="16" text-anchor="end" fill="#1a1a1a" >-20</text><text x="401.5" y="786.4" font-size="16" text-anchor="end" fill="#1a1a1a" >0</text><text x="401.5" y="759" font-size="16" text-anchor="end" fill="#1a1a1a" >20</text><text x="401.5" y="731.6" font-size="16" text-anchor="end" fill="#1a1a1a" >40</text><text x="401.5" y="704.2" font-size="16" text-anchor="end" fill="#1a1a1a" >60</text><text x="401.5" y="676.8" font-size="16" text-anchor="end" fill="#1a1a1a" >80</text><line x1="440" y1="905" x2="440" y2="909.5" stroke="#1a1a1a" stroke-width="1.3"/><line x1="516.2" y1="905" x2="516.2" y2="909.5" stroke="#1a1a1a" stroke-width="1.3"/><line x1="592.4" y1="905" x2="592.4" y2="909.5" stroke="#1a1a1a" stroke-width="1.3"/><line x1="668.6" y1="905" x2="668.6" y2="909.5" stroke="#1a1a1a" stroke-width="1.3"/><text x="440" y="926.5" font-size="16" text-anchor="middle" fill="#1a1a1a" >0%</text><text x="516.2" y="926.5" font-size="16" text-anchor="middle" fill="#1a1a1a" >5%</text><text x="592.4" y="926.5" font-size="16" text-anchor="middle" fill="#1a1a1a" >10%</text><text x="668.6" y="926.5" font-size="16" text-anchor="middle" fill="#1a1a1a" >15%</text><text x="490.4" y="945.5" font-size="20" text-anchor="start" fill="#1a1a1a" textLength="128.9" lengthAdjust="spacingAndGlyphs" >LiTFSI content</text><text x="370.8" y="787.3" font-size="19.5" text-anchor="middle" fill="#1a1a1a" transform="rotate(-90 370.8 787.3)" textLength="152.7" lengthAdjust="spacingAndGlyphs" >Temperature (°C)</text><text x="383.5" y="652.5" font-size="23" text-anchor="start" fill="#000" font-weight="bold" >f</text><polyline points="440,787 516.2,784.2 592.4,738.1 668.6,717.7" fill="none" stroke="#e06266" stroke-width="2"/><polyline points="440,827.3 516.2,841 592.4,858.7 668.6,877.5" fill="none" stroke="#3f6fc0" stroke-width="2"/><defs><radialGradient id="g4400_7870" cx="0.38" cy="0.35" r="0.65"><stop offset="0" stop-color="#fff"/><stop offset="0.25" stop-color="#e8656a"/><stop offset="1" stop-color="#b33a3f"/></radialGradient></defs><circle cx="440" cy="787" r="5.3" fill="url(#g4400_7870)"/><defs><radialGradient id="g5162_7841" cx="0.38" cy="0.35" r="0.65"><stop offset="0" stop-color="#fff"/><stop offset="0.25" stop-color="#e8656a"/><stop offset="1" stop-color="#b33a3f"/></radialGradient></defs><circle cx="516.2" cy="784.2" r="5.3" fill="url(#g5162_7841)"/><defs><radialGradient id="g5924_7381" cx="0.38" cy="0.35" r="0.65"><stop offset="0" stop-color="#fff"/><stop offset="0.25" stop-color="#e8656a"/><stop offset="1" stop-color="#b33a3f"/></radialGradient></defs><circle cx="592.4" cy="738.1" r="5.3" fill="url(#g5924_7381)"/><defs><radialGradient id="g6686_7177" cx="0.38" cy="0.35" r="0.65"><stop offset="0" stop-color="#fff"/><stop offset="0.25" stop-color="#e8656a"/><stop offset="1" stop-color="#b33a3f"/></radialGradient></defs><circle cx="668.6" cy="717.7" r="5.3" fill="url(#g6686_7177)"/><defs><radialGradient id="g4400_8273" cx="0.38" cy="0.35" r="0.65"><stop offset="0" stop-color="#fff"/><stop offset="0.25" stop-color="#4a7ad0"/><stop offset="1" stop-color="#1f4a98"/></radialGradient></defs><circle cx="440" cy="827.3" r="5.3" fill="url(#g4400_8273)"/><defs><radialGradient id="g5162_8410" cx="0.38" cy="0.35" r="0.65"><stop offset="0" stop-color="#fff"/><stop offset="0.25" stop-color="#4a7ad0"/><stop offset="1" stop-color="#1f4a98"/></radialGradient></defs><circle cx="516.2" cy="841" r="5.3" fill="url(#g5162_8410)"/><defs><radialGradient id="g5924_8586" cx="0.38" cy="0.35" r="0.65"><stop offset="0" stop-color="#fff"/><stop offset="0.25" stop-color="#4a7ad0"/><stop offset="1" stop-color="#1f4a98"/></radialGradient></defs><circle cx="592.4" cy="858.7" r="5.3" fill="url(#g5924_8586)"/><defs><radialGradient id="g6686_8774" cx="0.38" cy="0.35" r="0.65"><stop offset="0" stop-color="#fff"/><stop offset="0.25" stop-color="#4a7ad0"/><stop offset="1" stop-color="#1f4a98"/></radialGradient></defs><circle cx="668.6" cy="877.5" r="5.3" fill="url(#g6686_8774)"/><text x="532.5" y="740" font-size="15.5" font-style="italic" fill="#e06266">T</text><text x="540.5" y="744" font-size="10.5" font-style="italic" fill="#e06266">g1</text><text x="544.2" y="832" font-size="15.5" font-style="italic" fill="#3f6fc0">T</text><text x="552.5" y="836" font-size="10.5" font-style="italic" fill="#3f6fc0">g2</text>
<rect x="764.2" y="670.8" width="289.2" height="233.1" fill="none" stroke="#1a1a1a" stroke-width="1.9"/><line x1="764.2" y1="903.9" x2="759.2" y2="903.9" stroke="#1a1a1a" stroke-width="1.3"/><line x1="764.2" y1="859.5" x2="759.2" y2="859.5" stroke="#1a1a1a" stroke-width="1.3"/><line x1="764.2" y1="815.1" x2="759.2" y2="815.1" stroke="#1a1a1a" stroke-width="1.3"/><line x1="764.2" y1="770.8" x2="759.2" y2="770.8" stroke="#1a1a1a" stroke-width="1.3"/><line x1="764.2" y1="726.4" x2="759.2" y2="726.4" stroke="#1a1a1a" stroke-width="1.3"/><line x1="764.2" y1="682" x2="759.2" y2="682" stroke="#1a1a1a" stroke-width="1.3"/><line x1="764.2" y1="881.7" x2="761.2" y2="881.7" stroke="#1a1a1a" stroke-width="1.3"/><line x1="764.2" y1="837.3" x2="761.2" y2="837.3" stroke="#1a1a1a" stroke-width="1.3"/><line x1="764.2" y1="793" x2="761.2" y2="793" stroke="#1a1a1a" stroke-width="1.3"/><line x1="764.2" y1="748.6" x2="761.2" y2="748.6" stroke="#1a1a1a" stroke-width="1.3"/><line x1="764.2" y1="704.2" x2="761.2" y2="704.2" stroke="#1a1a1a" stroke-width="1.3"/><text x="755.8" y="908.8" font-size="16.3" text-anchor="end" fill="#1a1a1a" >0</text><text x="755.8" y="864.4" font-size="16.3" text-anchor="end" fill="#1a1a1a" >20</text><text x="755.8" y="820" font-size="16.3" text-anchor="end" fill="#1a1a1a" >40</text><text x="755.8" y="775.7" font-size="16.3" text-anchor="end" fill="#1a1a1a" >60</text><text x="755.8" y="731.3" font-size="16.3" text-anchor="end" fill="#1a1a1a" >80</text><text x="755.8" y="686.9" font-size="16.3" text-anchor="end" fill="#1a1a1a" >100</text><line x1="764.2" y1="903.9" x2="764.2" y2="908.4" stroke="#1a1a1a" stroke-width="1.3"/><line x1="836.5" y1="903.9" x2="836.5" y2="908.4" stroke="#1a1a1a" stroke-width="1.3"/><line x1="908.8" y1="903.9" x2="908.8" y2="908.4" stroke="#1a1a1a" stroke-width="1.3"/><line x1="981.1" y1="903.9" x2="981.1" y2="908.4" stroke="#1a1a1a" stroke-width="1.3"/><line x1="1053.4" y1="903.9" x2="1053.4" y2="908.4" stroke="#1a1a1a" stroke-width="1.3"/><line x1="800.4" y1="903.9" x2="800.4" y2="906.7" stroke="#1a1a1a" stroke-width="1.3"/><line x1="872.7" y1="903.9" x2="872.7" y2="906.7" stroke="#1a1a1a" stroke-width="1.3"/><line x1="945" y1="903.9" x2="945" y2="906.7" stroke="#1a1a1a" stroke-width="1.3"/><line x1="1017.2" y1="903.9" x2="1017.2" y2="906.7" stroke="#1a1a1a" stroke-width="1.3"/><text x="764.2" y="925" font-size="16" text-anchor="middle" fill="#1a1a1a" >400</text><text x="836.5" y="925" font-size="16" text-anchor="middle" fill="#1a1a1a" >500</text><text x="908.8" y="925" font-size="16" text-anchor="middle" fill="#1a1a1a" >600</text><text x="981.1" y="925" font-size="16" text-anchor="middle" fill="#1a1a1a" >700</text><text x="1053.4" y="925" font-size="16" text-anchor="middle" fill="#1a1a1a" >800</text><text x="834" y="943.5" font-size="20" text-anchor="start" fill="#1a1a1a" textLength="151.4" lengthAdjust="spacingAndGlyphs" >Wavelength (nm)</text><text x="731.5" y="800" font-size="19.5" text-anchor="middle" fill="#1a1a1a" transform="rotate(-90 731.5 800)" textLength="187.6" lengthAdjust="spacingAndGlyphs" >Transmittance (%)</text><text x="740" y="652" font-size="23" text-anchor="start" fill="#000" font-weight="bold" >g</text><defs><clipPath id="phclip"><rect x="829.7" y="711.9" width="172.9" height="172.3"/></clipPath><filter id="blur3" x="-30%" y="-30%" width="160%" height="160%"><feGaussianBlur stdDeviation="4"/></filter><filter id="blur1" x="-20%" y="-20%" width="140%" height="140%"><feGaussianBlur stdDeviation="0.6"/></filter></defs><g clip-path="url(#phclip)"><rect x="829.7" y="711.9" width="172.9" height="172.3" fill="#6a7040"/><g filter="url(#blur3)"><ellipse cx="850" cy="740" rx="26" ry="30" fill="#b7b08a"/><ellipse cx="885" cy="752" rx="26" ry="16" fill="#9ea56c"/><ellipse cx="875" cy="728" rx="22" ry="12" fill="#aaa57c"/><ellipse cx="990" cy="800" rx="18" ry="45" fill="#2d4422"/><ellipse cx="965" cy="760" rx="14" ry="12" fill="#44562a"/><ellipse cx="1000" cy="740" rx="8" ry="10" fill="#3a4f28"/><ellipse cx="880" cy="840" rx="40" ry="22" fill="#4c5a2c"/><ellipse cx="975" cy="855" rx="32" ry="30" fill="#476e34"/><ellipse cx="935" cy="830" rx="18" ry="18" fill="#52663a"/><ellipse cx="836" cy="862" rx="9" ry="28" fill="#c9c6b6"/><ellipse cx="845" cy="810" rx="12" ry="18" fill="#7c7a4a"/><ellipse cx="990" cy="718" rx="12" ry="8" fill="#6f9a48"/><ellipse cx="1000" cy="860" rx="10" ry="25" fill="#3e5e30"/><ellipse cx="900" cy="800" rx="50" ry="30" fill="#c9a21a" opacity="0.85"/><ellipse cx="975" cy="782" rx="16" ry="26" fill="#c9a21a" opacity="0.85"/><ellipse cx="915" cy="722" rx="35" ry="9" fill="#bf9a1c" opacity="0.85"/><ellipse cx="838" cy="752" rx="9" ry="14" fill="#c9a21a" opacity="0.85"/><ellipse cx="902" cy="866" rx="28" ry="14" fill="#c9a21a" opacity="0.85"/><ellipse cx="993" cy="825" rx="9" ry="14" fill="#c9a21a" opacity="0.85"/><ellipse cx="858" cy="805" rx="14" ry="18" fill="#b8961c" opacity="0.85"/></g><g fill="none" stroke-linecap="round" filter="url(#blur1)"><path d="M838,712 C838.7,716.7 842.3,730.3 842,740 C841.7,749.7 837,765 836,770" stroke="#b8a67a" stroke-width="1.8"/><path d="M905,712 C903.2,715.8 899.5,727.3 894,735 C888.5,742.7 875.7,754.2 872,758" stroke="#a99a6a" stroke-width="1.6"/><path d="M932,822 C934.2,824.5 936.2,831.3 945,837 C953.8,842.7 975.5,852.2 985,856 C994.5,859.8 999.2,859.3 1002,860" stroke="#b5a57a" stroke-width="1.8"/><path d="M888,818 C889.8,822.7 897.2,841.3 899,846" stroke="#a99870" stroke-width="1.6"/><path d="M841,882 C842.8,879.3 847.2,872 852,866 C856.8,860 862.8,853.3 870,846 C877.2,838.7 890.8,826 895,822" stroke="#2f2a1c" stroke-width="2.0"/><path d="M960,798 C964.2,800.3 978,807.5 985,812 C992,816.5 999.2,822.8 1002,825" stroke="#b9ae86" stroke-width="1.6"/><path d="M870,876 C875.8,873 895.8,862.7 905,858 C914.2,853.3 921.7,849.7 925,848" stroke="#b0a074" stroke-width="1.5"/><path d="M830,780 C833.3,778.3 841.7,772.5 850,770 C858.3,767.5 875,765.8 880,765" stroke="#a59870" stroke-width="1.2"/></g><g filter="url(#blur1)"><ellipse cx="845" cy="862" rx="7" ry="4" fill="#5a9a3c" transform="rotate(-30 845 862)"/><ellipse cx="862" cy="855" rx="5" ry="6" fill="#4e9336" transform="rotate(10 862 855)"/><ellipse cx="948" cy="851" rx="7" ry="4.5" fill="#64a847" transform="rotate(-50 948 851)"/><ellipse cx="952" cy="868" rx="9" ry="4" fill="#58a03e" transform="rotate(10 952 868)"/><ellipse cx="935" cy="875" rx="5" ry="3" fill="#6aad4a" transform="rotate(-30 935 875)"/><ellipse cx="975" cy="714" rx="12" ry="4" fill="#79b04c" transform="rotate(-15 975 714)"/><ellipse cx="860" cy="775" rx="4" ry="6" fill="#6ca448" transform="rotate(0 860 775)"/><ellipse cx="980" cy="800" rx="6" ry="4" fill="#5c9a40" transform="rotate(20 980 800)"/><ellipse cx="996" cy="745" rx="5" ry="3" fill="#3d6a2a" transform="rotate(0 996 745)"/><ellipse cx="928" cy="852" rx="4" ry="3" fill="#5fa042" transform="rotate(20 928 852)"/></g><g filter="url(#blur1)"><ellipse cx="897.4" cy="798.8" rx="10.9" ry="4.5" fill="#f0c218" transform="rotate(63.3 897.4 798.8)"/><ellipse cx="885.7" cy="796.5" rx="10.8" ry="3.5" fill="#f0c218" transform="rotate(138.3 885.7 796.5)"/><ellipse cx="886.6" cy="786" rx="8.3" ry="3.8" fill="#d8a60e" transform="rotate(212.1 886.6 786)"/><ellipse cx="892.8" cy="782.5" rx="8.3" ry="3.5" fill="#d8a60e" transform="rotate(268.5 892.8 782.5)"/><ellipse cx="900.4" cy="787.5" rx="8.6" ry="4.4" fill="#f3c82a" transform="rotate(341.3 900.4 787.5)"/><circle cx="893" cy="790" r="2.4" fill="#b98c0c"/><ellipse cx="927" cy="775" rx="8.4" ry="4" fill="#f7d535" transform="rotate(23.3 927 775)"/><ellipse cx="922.7" cy="782.1" rx="11.5" ry="3.1" fill="#d8a60e" transform="rotate(75.3 922.7 782.1)"/><ellipse cx="912.3" cy="773.1" rx="8.5" ry="3.3" fill="#c9990f" transform="rotate(172.2 912.3 773.1)"/><ellipse cx="916.1" cy="763.9" rx="9.9" ry="4.1" fill="#d8a60e" transform="rotate(244.2 916.1 763.9)"/><ellipse cx="924.1" cy="762.4" rx="11.5" ry="3.4" fill="#f3c82a" transform="rotate(292.8 924.1 762.4)"/><circle cx="920" cy="772" r="2.4" fill="#b98c0c"/><ellipse cx="948" cy="799.5" rx="7.1" ry="2.7" fill="#e5b312" transform="rotate(22.7 948 799.5)"/><ellipse cx="941.4" cy="805.3" rx="9.1" ry="3.3" fill="#c9990f" transform="rotate(93.8 941.4 805.3)"/><ellipse cx="935.5" cy="799.6" rx="7.7" ry="3" fill="#c9990f" transform="rotate(157.9 935.5 799.6)"/><ellipse cx="937.6" cy="791.1" rx="8.1" ry="2.8" fill="#eebd20" transform="rotate(233.4 937.6 791.1)"/><ellipse cx="947.2" cy="793.9" rx="6.7" ry="3.5" fill="#f3c82a" transform="rotate(329.1 947.2 793.9)"/><circle cx="942" cy="797" r="2" fill="#b98c0c"/><ellipse cx="874.9" cy="801.3" rx="7.7" ry="3.3" fill="#f0c218" transform="rotate(10.3 874.9 801.3)"/><ellipse cx="870.4" cy="807.6" rx="8.8" ry="3.4" fill="#d8a60e" transform="rotate(72.2 870.4 807.6)"/><ellipse cx="863.3" cy="804.8" rx="7.4" ry="3.6" fill="#e0ad10" transform="rotate(134.2 863.3 804.8)"/><ellipse cx="862.1" cy="796.2" rx="7.7" ry="3.2" fill="#e0ad10" transform="rotate(213 862.1 796.2)"/><ellipse cx="869.1" cy="792" rx="8.9" ry="3.6" fill="#eebd20" transform="rotate(277.9 869.1 792)"/><circle cx="868" cy="800" r="2" fill="#b98c0c"/><ellipse cx="910.4" cy="823.6" rx="6.2" ry="2.7" fill="#c9990f" transform="rotate(16.7 910.4 823.6)"/><ellipse cx="905.2" cy="828.3" rx="6.9" ry="3.4" fill="#e5b312" transform="rotate(87.8 905.2 828.3)"/><ellipse cx="900.1" cy="825.8" rx="6.8" ry="2.5" fill="#e5b312" transform="rotate(141.7 900.1 825.8)"/><ellipse cx="899.7" cy="817.1" rx="7.9" ry="2.7" fill="#e0ad10" transform="rotate(223.1 899.7 817.1)"/><ellipse cx="906.1" cy="816.6" rx="6.1" ry="3.4" fill="#f3c82a" transform="rotate(281.1 906.1 816.6)"/><circle cx="905" cy="822" r="1.8" fill="#b98c0c"/><ellipse cx="855.5" cy="796" rx="6.1" ry="2.3" fill="#f3c82a" transform="rotate(10.1 855.5 796)"/><ellipse cx="853" cy="801.3" rx="7.7" ry="2.7" fill="#e0ad10" transform="rotate(64.2 853 801.3)"/><ellipse cx="845.9" cy="798.2" rx="5.8" ry="3.1" fill="#f7d535" transform="rotate(141.9 845.9 798.2)"/><ellipse cx="845.2" cy="790.5" rx="7.2" ry="2.2" fill="#f3c82a" transform="rotate(222.8 845.2 790.5)"/><ellipse cx="851.4" cy="790.3" rx="5.4" ry="2.5" fill="#f7d535" transform="rotate(287.1 851.4 790.3)"/><circle cx="850" cy="795" r="1.6" fill="#b98c0c"/><ellipse cx="979.7" cy="781.9" rx="9.2" ry="3.8" fill="#e0ad10" transform="rotate(55.8 979.7 781.9)"/><ellipse cx="970.3" cy="781.4" rx="8.7" ry="3" fill="#eebd20" transform="rotate(126.6 970.3 781.4)"/><ellipse cx="967.9" cy="775.2" rx="7.8" ry="2.7" fill="#f3c82a" transform="rotate(178.5 967.9 775.2)"/><ellipse cx="974.5" cy="767.5" rx="8.2" ry="2.8" fill="#e0ad10" transform="rotate(266.4 974.5 767.5)"/><ellipse cx="981.1" cy="772.8" rx="7.2" ry="3.2" fill="#c9990f" transform="rotate(339.8 981.1 772.8)"/><circle cx="975" cy="775" r="2" fill="#b98c0c"/><ellipse cx="966.7" cy="746.2" rx="5.4" ry="2.3" fill="#f0c218" transform="rotate(14.5 966.7 746.2)"/><ellipse cx="962.4" cy="749.9" rx="5.4" ry="2.4" fill="#eebd20" transform="rotate(85.5 962.4 749.9)"/><ellipse cx="957.6" cy="746.6" rx="5.2" ry="2.7" fill="#eebd20" transform="rotate(159.7 957.6 746.6)"/><ellipse cx="959.2" cy="741" rx="5.4" ry="2" fill="#f0c218" transform="rotate(235.4 959.2 741)"/><ellipse cx="964.2" cy="739.7" rx="6.3" ry="2.1" fill="#eebd20" transform="rotate(292.9 964.2 739.7)"/><circle cx="962" cy="745" r="1.4" fill="#b98c0c"/><ellipse cx="990.9" cy="819.9" rx="6.9" ry="2.9" fill="#c9990f" transform="rotate(51.2 990.9 819.9)"/><ellipse cx="985.4" cy="820.3" rx="6.1" ry="3" fill="#f3c82a" transform="rotate(106.9 985.4 820.3)"/><ellipse cx="980.3" cy="814.9" rx="7.4" ry="2.9" fill="#e0ad10" transform="rotate(181.2 980.3 814.9)"/><ellipse cx="987.2" cy="808.1" rx="7.6" ry="2.6" fill="#f7d535" transform="rotate(271.9 987.2 808.1)"/><ellipse cx="991.3" cy="811.4" rx="6.2" ry="2.9" fill="#eebd20" transform="rotate(320.6 991.3 811.4)"/><circle cx="987" cy="815" r="1.6" fill="#b98c0c"/><ellipse cx="997.7" cy="839.5" rx="5.3" ry="1.7" fill="#f3c82a" transform="rotate(68.8 997.7 839.5)"/><ellipse cx="993.2" cy="838.6" rx="5" ry="2.2" fill="#eebd20" transform="rotate(128.3 993.2 838.6)"/><ellipse cx="992.9" cy="833" rx="4" ry="1.7" fill="#e0ad10" transform="rotate(212.8 992.9 833)"/><ellipse cx="996.8" cy="831.2" rx="4.3" ry="2.1" fill="#f7d535" transform="rotate(282 996.8 831.2)"/><ellipse cx="999.7" cy="834.6" rx="4" ry="1.9" fill="#d8a60e" transform="rotate(354.2 999.7 834.6)"/><circle cx="996" cy="835" r="1.2" fill="#b98c0c"/><ellipse cx="923.1" cy="857.5" rx="6.2" ry="3.4" fill="#e0ad10" transform="rotate(26.7 923.1 857.5)"/><ellipse cx="919.2" cy="860.4" rx="6" ry="2.8" fill="#f3c82a" transform="rotate(77.7 919.2 860.4)"/><ellipse cx="912.6" cy="856.6" rx="6.1" ry="2.5" fill="#c9990f" transform="rotate(163.8 912.6 856.6)"/><ellipse cx="912.8" cy="851.2" rx="7.1" ry="2.6" fill="#f3c82a" transform="rotate(215.9 912.8 851.2)"/><ellipse cx="922.9" cy="849.9" rx="7.8" ry="2.9" fill="#f0c218" transform="rotate(313.9 922.9 849.9)"/><circle cx="918" cy="855" r="1.8" fill="#b98c0c"/><ellipse cx="899" cy="873.8" rx="6" ry="2.6" fill="#eebd20" transform="rotate(43.5 899 873.8)"/><ellipse cx="890.3" cy="874.7" rx="7.3" ry="2.5" fill="#c9990f" transform="rotate(135.2 890.3 874.7)"/><ellipse cx="890" cy="868.9" rx="5.7" ry="2.4" fill="#e0ad10" transform="rotate(192.5 890 868.9)"/><ellipse cx="896.1" cy="863.1" rx="7.7" ry="2.7" fill="#c9990f" transform="rotate(279.2 896.1 863.1)"/><ellipse cx="901.1" cy="868.6" rx="6.9" ry="2.4" fill="#c9990f" transform="rotate(347.1 901.1 868.6)"/><circle cx="895" cy="870" r="1.6" fill="#b98c0c"/><ellipse cx="870.2" cy="883.1" rx="4.2" ry="2" fill="#f3c82a" transform="rotate(54.4 870.2 883.1)"/><ellipse cx="865.3" cy="884.5" rx="5.8" ry="1.9" fill="#e0ad10" transform="rotate(120.8 865.3 884.5)"/><ellipse cx="864.3" cy="877.9" rx="4.7" ry="2.3" fill="#f7d535" transform="rotate(209.1 864.3 877.9)"/><ellipse cx="868" cy="876" rx="4.4" ry="2.3" fill="#e0ad10" transform="rotate(269.8 868 876)"/><ellipse cx="871.2" cy="878.3" rx="4" ry="2.3" fill="#eebd20" transform="rotate(331.5 871.2 878.3)"/><circle cx="868" cy="880" r="1.2" fill="#b98c0c"/><ellipse cx="844.1" cy="753.2" rx="5.6" ry="1.9" fill="#e0ad10" transform="rotate(37.8 844.1 753.2)"/><ellipse cx="838.6" cy="754.1" rx="4.7" ry="1.9" fill="#f3c82a" transform="rotate(108.6 838.6 754.1)"/><ellipse cx="834.8" cy="750.6" rx="5.8" ry="2" fill="#e0ad10" transform="rotate(173.7 834.8 750.6)"/><ellipse cx="839.9" cy="745.3" rx="5.1" ry="2" fill="#f7d535" transform="rotate(268.7 839.9 745.3)"/><ellipse cx="844.4" cy="748.3" rx="5.2" ry="2.2" fill="#e0ad10" transform="rotate(338.9 844.4 748.3)"/><circle cx="840" cy="750" r="1.4" fill="#b98c0c"/><ellipse cx="838.7" cy="816.3" rx="5.6" ry="2.2" fill="#f0c218" transform="rotate(57.5 838.7 816.3)"/><ellipse cx="833.6" cy="815.3" rx="4.5" ry="1.9" fill="#c9990f" transform="rotate(126.5 833.6 815.3)"/><ellipse cx="831.3" cy="810.8" rx="5.3" ry="1.6" fill="#c9990f" transform="rotate(194 831.3 810.8)"/><ellipse cx="835" cy="807.2" rx="5.3" ry="2" fill="#f0c218" transform="rotate(258.5 835 807.2)"/><ellipse cx="839.5" cy="809.1" rx="5" ry="2.1" fill="#e5b312" transform="rotate(319.7 839.5 809.1)"/><circle cx="836" cy="812" r="1.2" fill="#b98c0c"/><ellipse cx="873.5" cy="720.6" rx="4" ry="2.1" fill="#f3c82a" transform="rotate(81.3 873.5 720.6)"/><ellipse cx="868.7" cy="719" rx="5.2" ry="2.3" fill="#e0ad10" transform="rotate(154.8 868.7 719)"/><ellipse cx="870.1" cy="712.9" rx="5.5" ry="1.9" fill="#d8a60e" transform="rotate(234.7 870.1 712.9)"/><ellipse cx="875.7" cy="713.5" rx="4.8" ry="2.1" fill="#eebd20" transform="rotate(307.9 875.7 713.5)"/><ellipse cx="877.5" cy="718.5" rx="5.2" ry="1.9" fill="#eebd20" transform="rotate(378 877.5 718.5)"/><circle cx="873" cy="717" r="1.2" fill="#b98c0c"/><ellipse cx="907.2" cy="725.5" rx="4.5" ry="1.7" fill="#e0ad10" transform="rotate(57.5 907.2 725.5)"/><ellipse cx="901.3" cy="724.6" rx="5" ry="1.9" fill="#f0c218" transform="rotate(144.5 901.3 724.6)"/><ellipse cx="901.1" cy="721.3" rx="4.4" ry="2.2" fill="#e5b312" transform="rotate(189.4 901.1 721.3)"/><ellipse cx="905.6" cy="718.4" rx="4" ry="2.1" fill="#e5b312" transform="rotate(279.3 905.6 718.4)"/><ellipse cx="909.8" cy="722.1" rx="5.3" ry="1.6" fill="#e5b312" transform="rotate(361.3 909.8 722.1)"/><circle cx="905" cy="722" r="1.2" fill="#b98c0c"/><ellipse cx="935.5" cy="724.5" rx="6.7" ry="2.4" fill="#f7d535" transform="rotate(24.1 935.5 724.5)"/><ellipse cx="928.4" cy="727.4" rx="6.1" ry="2.2" fill="#f7d535" transform="rotate(106.6 928.4 727.4)"/><ellipse cx="925.1" cy="723.1" rx="5.5" ry="1.9" fill="#d8a60e" transform="rotate(167 925.1 723.1)"/><ellipse cx="926.7" cy="719" rx="4.9" ry="2.1" fill="#e5b312" transform="rotate(222 926.7 719)"/><ellipse cx="932.7" cy="717.4" rx="5.9" ry="1.9" fill="#f3c82a" transform="rotate(301.1 932.7 717.4)"/><circle cx="930" cy="722" r="1.4" fill="#b98c0c"/><ellipse cx="953.3" cy="719.3" rx="4" ry="1.5" fill="#e0ad10" transform="rotate(68.1 953.3 719.3)"/><ellipse cx="948.2" cy="718.1" rx="4.7" ry="1.5" fill="#f0c218" transform="rotate(150.7 948.2 718.1)"/><ellipse cx="949.1" cy="714.2" rx="3.8" ry="1.6" fill="#eebd20" transform="rotate(212.2 949.1 714.2)"/><ellipse cx="954.3" cy="713" rx="4.2" ry="1.7" fill="#eebd20" transform="rotate(307.4 954.3 713)"/><ellipse cx="955.3" cy="715.6" rx="3.7" ry="1.8" fill="#eebd20" transform="rotate(354 955.3 715.6)"/><circle cx="952" cy="716" r="1" fill="#b98c0c"/><ellipse cx="992.7" cy="714.9" rx="3.7" ry="1.5" fill="#f3c82a" transform="rotate(35.5 992.7 714.9)"/><ellipse cx="988.7" cy="716.8" rx="4.4" ry="1.7" fill="#e5b312" transform="rotate(108.9 988.7 716.8)"/><ellipse cx="987" cy="712.3" rx="3.4" ry="1.8" fill="#e0ad10" transform="rotate(192.7 987 712.3)"/><ellipse cx="988.9" cy="708.9" rx="4.7" ry="1.6" fill="#c9990f" transform="rotate(254.7 988.9 708.9)"/><ellipse cx="993" cy="710.7" rx="4.1" ry="1.6" fill="#f3c82a" transform="rotate(322.8 993 710.7)"/><circle cx="990" cy="713" r="1" fill="#b98c0c"/><ellipse cx="1004.3" cy="767.6" rx="4.8" ry="1.7" fill="#d8a60e" transform="rotate(-5.6 1004.3 767.6)"/><ellipse cx="1000.3" cy="771.1" rx="3.4" ry="1.9" fill="#e0ad10" transform="rotate(84.3 1000.3 771.1)"/><ellipse cx="997" cy="769.2" rx="3.5" ry="1.7" fill="#c9990f" transform="rotate(158.4 997 769.2)"/><ellipse cx="997.9" cy="765.4" rx="3.7" ry="1.9" fill="#c9990f" transform="rotate(230.9 997.9 765.4)"/><ellipse cx="1001.9" cy="765" rx="3.9" ry="1.7" fill="#c9990f" transform="rotate(301.7 1001.9 765)"/><circle cx="1000" cy="768" r="1" fill="#b98c0c"/><ellipse cx="949.7" cy="842" rx="4.8" ry="2.2" fill="#f0c218" transform="rotate(67.4 949.7 842)"/><ellipse cx="944.9" cy="841.3" rx="5" ry="2.1" fill="#f3c82a" transform="rotate(133.1 944.9 841.3)"/><ellipse cx="944.4" cy="837.4" rx="4" ry="1.7" fill="#d8a60e" transform="rotate(189.2 944.4 837.4)"/><ellipse cx="947.2" cy="833" rx="5.6" ry="1.9" fill="#c9990f" transform="rotate(260.5 947.2 833)"/><ellipse cx="951.9" cy="835.9" rx="4.8" ry="2.2" fill="#f3c82a" transform="rotate(331.3 951.9 835.9)"/><circle cx="948" cy="838" r="1.2" fill="#b98c0c"/><ellipse cx="884" cy="780.1" rx="5" ry="2.4" fill="#e5b312" transform="rotate(28 884 780.1)"/><ellipse cx="879.4" cy="782.9" rx="5.5" ry="2.6" fill="#f7d535" transform="rotate(97.3 879.4 782.9)"/><ellipse cx="875.6" cy="778.4" rx="4.9" ry="2.5" fill="#eebd20" transform="rotate(174.7 875.6 778.4)"/><ellipse cx="878.6" cy="774" rx="4.7" ry="2.6" fill="#c9990f" transform="rotate(250.3 878.6 774)"/><ellipse cx="884.3" cy="775.5" rx="5.4" ry="2.6" fill="#f0c218" transform="rotate(329.8 884.3 775.5)"/><circle cx="880" cy="778" r="1.4" fill="#b98c0c"/><ellipse cx="933" cy="815.2" rx="6.7" ry="1.9" fill="#c9990f" transform="rotate(59.8 933 815.2)"/><ellipse cx="926.7" cy="814.4" rx="6.1" ry="2.4" fill="#f7d535" transform="rotate(126.4 926.7 814.4)"/><ellipse cx="924.5" cy="809" rx="6.2" ry="2.3" fill="#e5b312" transform="rotate(190.6 924.5 809)"/><ellipse cx="931.1" cy="804.1" rx="6.6" ry="2.4" fill="#eebd20" transform="rotate(280.2 931.1 804.1)"/><ellipse cx="934.6" cy="808.3" rx="5.4" ry="1.9" fill="#e0ad10" transform="rotate(339.2 934.6 808.3)"/><circle cx="930" cy="810" r="1.4" fill="#b98c0c"/><ellipse cx="859.7" cy="825.6" rx="5.2" ry="2.3" fill="#f3c82a" transform="rotate(6.9 859.7 825.6)"/><ellipse cx="854.8" cy="829" rx="4.5" ry="1.9" fill="#e0ad10" transform="rotate(93.5 854.8 829)"/><ellipse cx="850.8" cy="826" rx="4.7" ry="1.6" fill="#c9990f" transform="rotate(167.1 850.8 826)"/><ellipse cx="852.9" cy="820.7" rx="5.3" ry="1.7" fill="#e0ad10" transform="rotate(243.9 852.9 820.7)"/><ellipse cx="856.5" cy="820.9" rx="4.8" ry="2.1" fill="#f0c218" transform="rotate(290.5 856.5 820.9)"/><circle cx="855" cy="825" r="1.2" fill="#b98c0c"/><ellipse cx="911.8" cy="742.5" rx="3.4" ry="1.8" fill="#e0ad10" transform="rotate(53.2 911.8 742.5)"/><ellipse cx="908.9" cy="742.9" rx="3.4" ry="1.3" fill="#d8a60e" transform="rotate(110.9 908.9 742.9)"/><ellipse cx="906.3" cy="740.1" rx="4.1" ry="1.5" fill="#d8a60e" transform="rotate(179.1 906.3 740.1)"/><ellipse cx="908.7" cy="736.8" rx="3.8" ry="1.3" fill="#f7d535" transform="rotate(248.3 908.7 736.8)"/><ellipse cx="913.8" cy="738.3" rx="4.6" ry="1.4" fill="#f0c218" transform="rotate(335.7 913.8 738.3)"/><circle cx="910" cy="740" r="1" fill="#b98c0c"/><ellipse cx="988.5" cy="792.5" rx="4.7" ry="2.1" fill="#f7d535" transform="rotate(35.4 988.5 792.5)"/><ellipse cx="982.6" cy="794.5" rx="5.6" ry="1.8" fill="#e0ad10" transform="rotate(118.5 982.6 794.5)"/><ellipse cx="979.9" cy="788.6" rx="5.8" ry="2" fill="#f7d535" transform="rotate(195.5 979.9 788.6)"/><ellipse cx="983.7" cy="786.5" rx="4.1" ry="2.1" fill="#f3c82a" transform="rotate(250.1 983.7 786.5)"/><ellipse cx="988" cy="787.7" rx="4.2" ry="1.6" fill="#d8a60e" transform="rotate(322.1 988 787.7)"/><circle cx="985" cy="790" r="1.2" fill="#b98c0c"/><ellipse cx="888.1" cy="777.5" rx="6" ry="2.6" fill="#e0ad10" transform="rotate(99.3 888.1 777.5)"/><ellipse cx="898.9" cy="795.6" rx="3.8" ry="2.1" fill="#e5b312" transform="rotate(134.6 898.9 795.6)"/><ellipse cx="952.4" cy="812.6" rx="4.3" ry="2.7" fill="#eebd20" transform="rotate(0 952.4 812.6)"/><ellipse cx="879.6" cy="772.3" rx="4.9" ry="2.3" fill="#f0c218" transform="rotate(294 879.6 772.3)"/><ellipse cx="895.9" cy="775.1" rx="4" ry="2.8" fill="#f7d535" transform="rotate(137.7 895.9 775.1)"/><ellipse cx="890.3" cy="819.5" rx="3.7" ry="2.4" fill="#f0c218" transform="rotate(116.4 890.3 819.5)"/><ellipse cx="953.5" cy="812.6" rx="4.8" ry="1.8" fill="#f7d535" transform="rotate(18.2 953.5 812.6)"/><ellipse cx="925.4" cy="781.1" rx="4" ry="2.9" fill="#f3c82a" transform="rotate(6 925.4 781.1)"/><ellipse cx="919.6" cy="807.8" rx="4.3" ry="2" fill="#f7d535" transform="rotate(222.9 919.6 807.8)"/><ellipse cx="901.4" cy="785.7" rx="4.8" ry="2" fill="#e0ad10" transform="rotate(255.4 901.4 785.7)"/><ellipse cx="904.5" cy="779.7" rx="4.5" ry="2.2" fill="#d8a60e" transform="rotate(160.5 904.5 779.7)"/><ellipse cx="873.6" cy="803.7" rx="4.5" ry="2.7" fill="#e0ad10" transform="rotate(337.1 873.6 803.7)"/><ellipse cx="943.8" cy="796.8" rx="3.6" ry="2.8" fill="#f0c218" transform="rotate(151 943.8 796.8)"/><ellipse cx="904" cy="796" rx="5.8" ry="2.1" fill="#c9990f" transform="rotate(253.8 904 796)"/><ellipse cx="881.6" cy="808.2" rx="4.1" ry="2" fill="#c9990f" transform="rotate(202.5 881.6 808.2)"/><ellipse cx="911" cy="767.3" rx="4.3" ry="2.8" fill="#f0c218" transform="rotate(293.1 911 767.3)"/><ellipse cx="876" cy="786.1" rx="3.7" ry="2.8" fill="#f0c218" transform="rotate(176.4 876 786.1)"/><ellipse cx="938.1" cy="809.2" rx="5.4" ry="2.1" fill="#c9990f" transform="rotate(331.5 938.1 809.2)"/><ellipse cx="869" cy="807.4" rx="4.8" ry="1.9" fill="#f0c218" transform="rotate(71.6 869 807.4)"/><ellipse cx="943.6" cy="816.2" rx="5" ry="2.8" fill="#f0c218" transform="rotate(8 943.6 816.2)"/><ellipse cx="873.1" cy="780.9" rx="4.7" ry="2.5" fill="#e0ad10" transform="rotate(248.6 873.1 780.9)"/><ellipse cx="951.8" cy="792.1" rx="5.8" ry="2.6" fill="#f7d535" transform="rotate(241.3 951.8 792.1)"/><ellipse cx="910.5" cy="780.4" rx="4.9" ry="2.6" fill="#eebd20" transform="rotate(188 910.5 780.4)"/><ellipse cx="906.2" cy="801.6" rx="5.4" ry="2.5" fill="#f3c82a" transform="rotate(310.7 906.2 801.6)"/><ellipse cx="889.8" cy="831.4" rx="4.1" ry="2.7" fill="#e5b312" transform="rotate(25.9 889.8 831.4)"/><ellipse cx="881.8" cy="767.3" rx="5.8" ry="2.6" fill="#d8a60e" transform="rotate(301.8 881.8 767.3)"/><ellipse cx="889.2" cy="797.8" rx="3.6" ry="2.2" fill="#f3c82a" transform="rotate(282.8 889.2 797.8)"/><ellipse cx="900.4" cy="797.9" rx="4.4" ry="2" fill="#d8a60e" transform="rotate(235.1 900.4 797.9)"/><ellipse cx="939.9" cy="782.5" rx="4.4" ry="1.9" fill="#c9990f" transform="rotate(248 939.9 782.5)"/><ellipse cx="906.2" cy="806.9" rx="4.1" ry="2.8" fill="#e5b312" transform="rotate(287 906.2 806.9)"/><ellipse cx="923.7" cy="796.4" rx="5" ry="2.7" fill="#e5b312" transform="rotate(80.9 923.7 796.4)"/><ellipse cx="861.8" cy="791.4" rx="5.1" ry="2.5" fill="#d8a60e" transform="rotate(146.5 861.8 791.4)"/><ellipse cx="868.3" cy="816" rx="5.8" ry="2.2" fill="#c9990f" transform="rotate(101.1 868.3 816)"/><ellipse cx="906.1" cy="803.3" rx="3.6" ry="2.5" fill="#f7d535" transform="rotate(217.2 906.1 803.3)"/><ellipse cx="874.7" cy="810.5" rx="3.6" ry="2.7" fill="#e5b312" transform="rotate(118.9 874.7 810.5)"/><ellipse cx="938.4" cy="813.3" rx="5.6" ry="2.9" fill="#e0ad10" transform="rotate(114.6 938.4 813.3)"/><ellipse cx="874.5" cy="771.9" rx="3.9" ry="2.6" fill="#e0ad10" transform="rotate(302.7 874.5 771.9)"/><ellipse cx="903.8" cy="802.9" rx="5.1" ry="1.9" fill="#c9990f" transform="rotate(120.9 903.8 802.9)"/><ellipse cx="893.7" cy="788.4" rx="5.4" ry="2.7" fill="#f7d535" transform="rotate(293.9 893.7 788.4)"/><ellipse cx="898.1" cy="768" rx="5.9" ry="2.6" fill="#e5b312" transform="rotate(347.4 898.1 768)"/><ellipse cx="965.9" cy="800" rx="3.8" ry="2.2" fill="#e5b312" transform="rotate(62.2 965.9 800)"/><ellipse cx="979.6" cy="803.7" rx="4.6" ry="1.8" fill="#c9990f" transform="rotate(352.9 979.6 803.7)"/><ellipse cx="975.5" cy="777.1" rx="4.3" ry="2.2" fill="#e0ad10" transform="rotate(267.3 975.5 777.1)"/><ellipse cx="972.2" cy="759.3" rx="4.1" ry="1.9" fill="#c9990f" transform="rotate(172.4 972.2 759.3)"/><ellipse cx="978.2" cy="766.8" rx="4.2" ry="2" fill="#e5b312" transform="rotate(326.1 978.2 766.8)"/><ellipse cx="962.5" cy="773.3" rx="4.2" ry="2.8" fill="#f0c218" transform="rotate(186.9 962.5 773.3)"/><ellipse cx="980.6" cy="807.3" rx="4" ry="2.7" fill="#e5b312" transform="rotate(52.5 980.6 807.3)"/><ellipse cx="965.9" cy="771.9" rx="3.8" ry="2.8" fill="#d8a60e" transform="rotate(308 965.9 771.9)"/><ellipse cx="984.5" cy="783.1" rx="5.5" ry="1.8" fill="#c9990f" transform="rotate(275.7 984.5 783.1)"/><ellipse cx="979" cy="773.4" rx="4.8" ry="2.9" fill="#e5b312" transform="rotate(312.5 979 773.4)"/><ellipse cx="977.6" cy="784.8" rx="6" ry="2.3" fill="#e5b312" transform="rotate(169.9 977.6 784.8)"/><ellipse cx="993.4" cy="775.5" rx="5.6" ry="2.4" fill="#f7d535" transform="rotate(8.1 993.4 775.5)"/><ellipse cx="906.1" cy="725.2" rx="4.5" ry="2.5" fill="#f0c218" transform="rotate(324.8 906.1 725.2)"/><ellipse cx="925.6" cy="724" rx="5.3" ry="2.8" fill="#f3c82a" transform="rotate(296.5 925.6 724)"/><ellipse cx="937.5" cy="715.4" rx="6" ry="2.7" fill="#f7d535" transform="rotate(321 937.5 715.4)"/><ellipse cx="913" cy="729.8" rx="5.6" ry="1.9" fill="#f3c82a" transform="rotate(133 913 729.8)"/><ellipse cx="906.5" cy="720.9" rx="4.6" ry="2.1" fill="#e5b312" transform="rotate(239.9 906.5 720.9)"/><ellipse cx="925.7" cy="714.1" rx="3.5" ry="2.6" fill="#f3c82a" transform="rotate(12.9 925.7 714.1)"/><ellipse cx="931.3" cy="718.3" rx="3.4" ry="2.8" fill="#e0ad10" transform="rotate(345.9 931.3 718.3)"/><ellipse cx="933.2" cy="726.7" rx="5.8" ry="2.9" fill="#f7d535" transform="rotate(11.2 933.2 726.7)"/><ellipse cx="921.1" cy="722.2" rx="3.7" ry="2.6" fill="#d8a60e" transform="rotate(120.3 921.1 722.2)"/><ellipse cx="935" cy="730.8" rx="6" ry="2.6" fill="#e5b312" transform="rotate(32.4 935 730.8)"/><ellipse cx="915.3" cy="867.5" rx="4.1" ry="2.9" fill="#e0ad10" transform="rotate(197.1 915.3 867.5)"/><ellipse cx="914.2" cy="859" rx="4.9" ry="2.1" fill="#f3c82a" transform="rotate(196.3 914.2 859)"/><ellipse cx="918.6" cy="866.1" rx="5.2" ry="1.8" fill="#f3c82a" transform="rotate(277.6 918.6 866.1)"/><ellipse cx="908.8" cy="872.9" rx="3.9" ry="2.2" fill="#d8a60e" transform="rotate(289.6 908.8 872.9)"/><ellipse cx="920.7" cy="868.2" rx="4.3" ry="1.8" fill="#e0ad10" transform="rotate(107.2 920.7 868.2)"/><ellipse cx="912" cy="870.8" rx="5.8" ry="2.5" fill="#f3c82a" transform="rotate(99.2 912 870.8)"/><ellipse cx="923.4" cy="862.9" rx="3.8" ry="2.9" fill="#e0ad10" transform="rotate(27.9 923.4 862.9)"/><ellipse cx="912.6" cy="864.3" rx="5" ry="1.9" fill="#c9990f" transform="rotate(184.8 912.6 864.3)"/><ellipse cx="906.4" cy="854.9" rx="4.3" ry="2.4" fill="#d8a60e" transform="rotate(203.7 906.4 854.9)"/><ellipse cx="903.4" cy="857.4" rx="5.3" ry="1.9" fill="#c9990f" transform="rotate(318.7 903.4 857.4)"/><ellipse cx="918.9" cy="856.5" rx="4.1" ry="2.7" fill="#eebd20" transform="rotate(266.8 918.9 856.5)"/><ellipse cx="905.8" cy="861.2" rx="4" ry="2" fill="#eebd20" transform="rotate(284.1 905.8 861.2)"/><ellipse cx="833.1" cy="789.3" rx="5.8" ry="2.8" fill="#f0c218" transform="rotate(213.8 833.1 789.3)"/><ellipse cx="856.6" cy="793.3" rx="3.6" ry="2.3" fill="#e0ad10" transform="rotate(249.7 856.6 793.3)"/><ellipse cx="841.5" cy="788.7" rx="3.4" ry="2.3" fill="#e0ad10" transform="rotate(148.5 841.5 788.7)"/><ellipse cx="849.2" cy="799.5" rx="5.9" ry="1.9" fill="#e5b312" transform="rotate(23.1 849.2 799.5)"/><ellipse cx="859.4" cy="809.6" rx="4.1" ry="2.4" fill="#e5b312" transform="rotate(194.8 859.4 809.6)"/><ellipse cx="861.4" cy="802.9" rx="4.1" ry="2.3" fill="#e0ad10" transform="rotate(109.9 861.4 802.9)"/><ellipse cx="853.8" cy="803.1" rx="5.4" ry="2.4" fill="#e0ad10" transform="rotate(324.7 853.8 803.1)"/><ellipse cx="836.4" cy="815.3" rx="5.9" ry="2.2" fill="#e0ad10" transform="rotate(220.2 836.4 815.3)"/><ellipse cx="855.8" cy="810.6" rx="3.5" ry="2.3" fill="#f3c82a" transform="rotate(223.8 855.8 810.6)"/><ellipse cx="848.7" cy="814.7" rx="4.7" ry="2.6" fill="#c9990f" transform="rotate(161 848.7 814.7)"/><ellipse cx="835" cy="748.4" rx="4" ry="2.4" fill="#d8a60e" transform="rotate(193 835 748.4)"/><ellipse cx="832" cy="744.6" rx="4.5" ry="2.7" fill="#eebd20" transform="rotate(300.9 832 744.6)"/><ellipse cx="829.3" cy="747.4" rx="4.5" ry="2.8" fill="#e0ad10" transform="rotate(185.9 829.3 747.4)"/><ellipse cx="832.3" cy="738.5" rx="5.9" ry="1.9" fill="#c9990f" transform="rotate(277.2 832.3 738.5)"/><ellipse cx="843.8" cy="762.8" rx="4.1" ry="2.7" fill="#f3c82a" transform="rotate(64.4 843.8 762.8)"/><ellipse cx="841.3" cy="755.3" rx="5.4" ry="1.9" fill="#e5b312" transform="rotate(308.8 841.3 755.3)"/></g><path d="M849,845 L897,853 M849,845 L852,815 M968,768 L955,863" stroke="#e2e6b0" stroke-width="0.6" fill="none" opacity="0.7"/><path d="M866.8,744.8 L939.4,736.8 L947.3,727.9 L1003,718.9 L1003,742.8 L947.3,744.8 L867.8,750.7 A2.9,2.9 0 0 1 866.8,744.8 Z" fill="#3d3f3a"/><path d="M947.3,727.9 L1003,718.9" stroke="#6d6e66" stroke-width="0.8"/><ellipse cx="1001" cy="745" rx="5" ry="4" fill="#b8652a" opacity="0.8"/></g><rect x="946.7" y="874" width="47.3" height="4.2" fill="#ffffff"/><path d="M764.6,696.3 C767.2,695.6 774.1,693.3 780,692 C785.9,690.7 793,689.5 800,688.5 C807,687.5 813.7,686.6 822,686 C830.3,685.4 840.3,685.1 850,684.8 C859.7,684.5 870.2,684.2 880,684 C889.8,683.8 897.3,683.6 909,683.5 C920.7,683.4 934.8,683.5 950,683.5 C965.2,683.5 982.8,683.8 1000,683.8 C1017.2,683.8 1044.2,683.5 1053,683.5" fill="none" stroke="#3d9fc4" stroke-width="1.8" stroke-linejoin="round" stroke-linecap="round"/>
</svg></body></html>
